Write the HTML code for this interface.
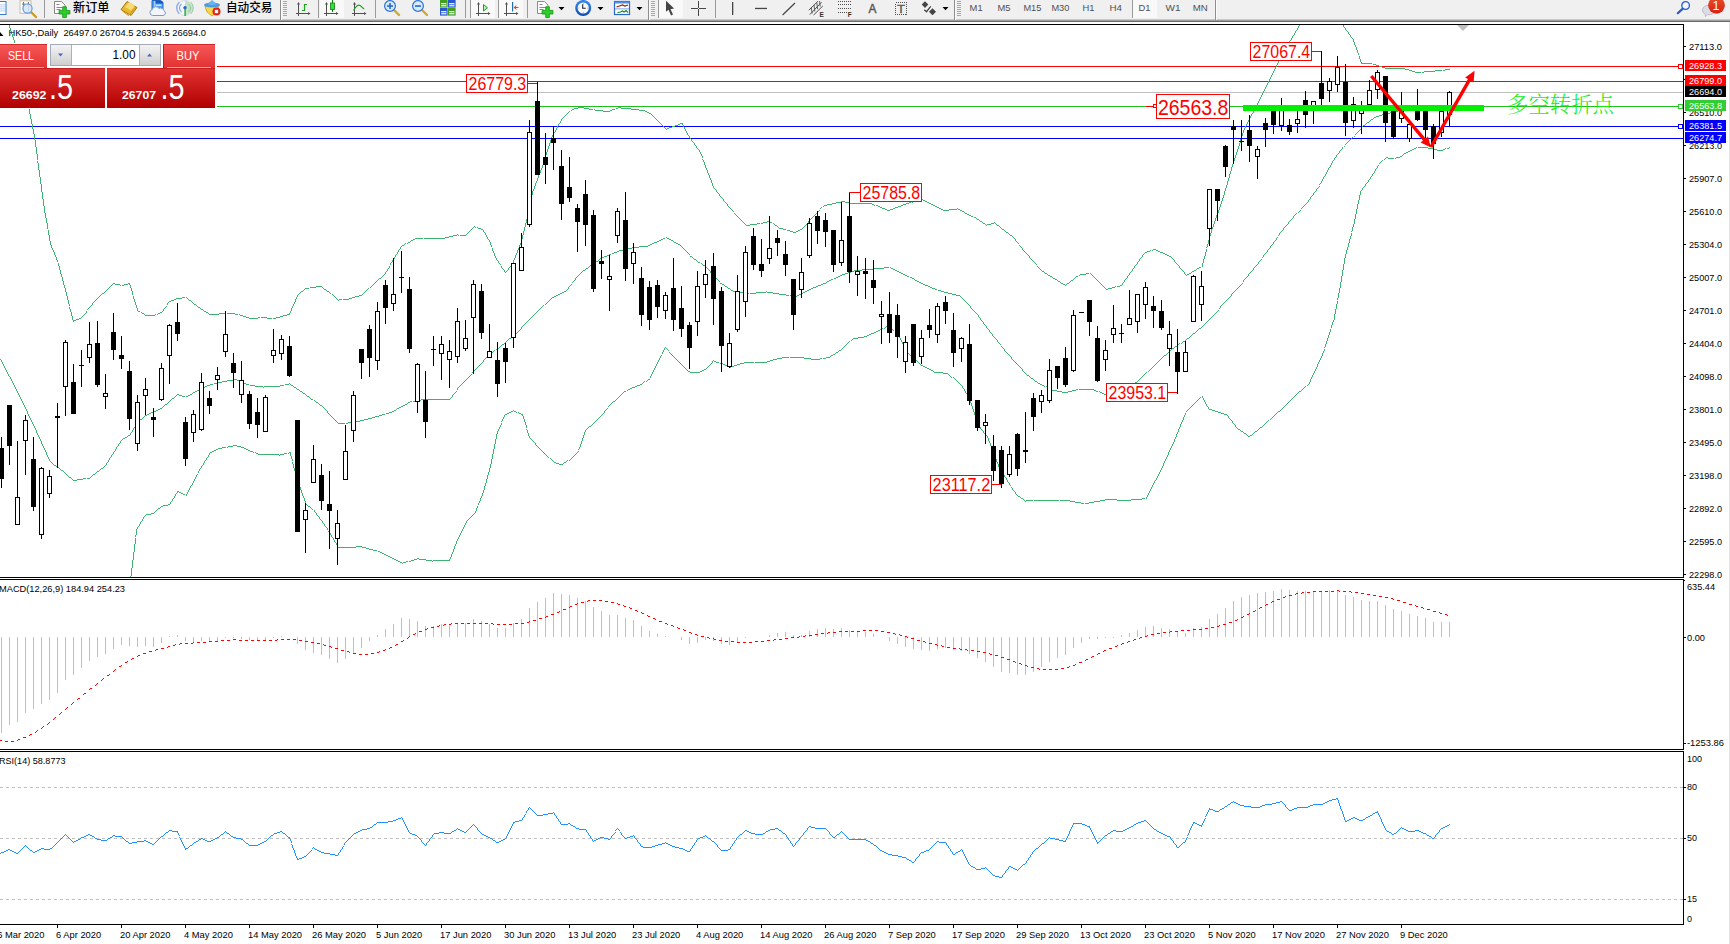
<!DOCTYPE html>
<html><head><meta charset="utf-8"><title>HK50-,Daily</title>
<style>html,body{margin:0;padding:0;background:#fff;overflow:hidden}body{width:1730px;height:944px}</style>
</head><body>
<svg width="1730" height="944" viewBox="0 0 1730 944" font-family="Liberation Sans, sans-serif" style="display:block">
<rect width="1730" height="944" fill="#fff"/>
<g shape-rendering="crispEdges">
<rect x="217" y="66" width="1466" height="1" fill="#ff0000"/>
<rect x="217" y="81" width="1466" height="1" fill="#ff0000"/>
<rect x="217" y="92" width="1466" height="1" fill="#c0c0c0"/>
<rect x="217" y="106" width="1466" height="1" fill="#20c020"/>
<rect x="0" y="126" width="1683" height="1" fill="#0000ff"/>
<rect x="0" y="138" width="1683" height="1" fill="#0000ff"/>
</g>
<path d="M578 107.5h6M618 107.5h3M574 108.5h4M584 108.5h5M616 108.5h2M621 108.5h10M572 109.5h2M589 109.5h4M612 109.5h3M631 109.5h8M595 110.5h8M610 110.5h2M639 110.5h6M603 111.5h7M645 111.5h2M647 112.5h2M649 113.5h2M680 123.5h3M678 124.5h2M675 125.5h3M672 126.5h3M669 127.5h3M667 128.5h2M919 199.5h4M916 200.5h3M923 200.5h2M841 201.5h4M913 201.5h3M925 201.5h2M836 202.5h5M845 202.5h5M909 202.5h2M927 202.5h2M832 203.5h4M850 203.5h22M906 203.5h3M929 203.5h2M827 204.5h5M872 204.5h2M903 204.5h3M931 204.5h2M824 205.5h3M876 205.5h2M901 205.5h2M933 205.5h2M878 206.5h2M898 206.5h3M935 206.5h2M880 207.5h2M895 207.5h3M937 207.5h2M882 208.5h3M893 208.5h2M939 208.5h2M885 209.5h2M890 209.5h3M941 209.5h2M949 209.5h8M958 209.5h2M887 210.5h3M943 210.5h6M960 210.5h2M962 211.5h2M965 213.5h2M967 214.5h2M969 215.5h2M971 216.5h2M974 217.5h2M977 219.5h2M767 221.5h3M980 221.5h2M763 222.5h4M770 222.5h2M757 223.5h3M761 223.5h2M983 223.5h2M991 223.5h3M750 224.5h7M987 224.5h4M746 225.5h4M775 225.5h2M997 225.5h2M478 228.5h3M779 228.5h4M481 229.5h2M783 229.5h3M800 229.5h2M1002 229.5h2M787 230.5h3M798 230.5h2M790 231.5h3M796 231.5h2M793 232.5h3M1006 232.5h2M453 235.5h4M460 235.5h6M1010 235.5h2M449 236.5h4M445 237.5h4M415 238.5h8M424 238.5h21M413 239.5h2M411 240.5h2M408 242.5h2M402 245.5h2M1153 249.5h3M1156 250.5h2M1147 251.5h3M1158 251.5h2M1145 252.5h2M1160 252.5h3M1163 253.5h2M1165 254.5h2M1167 255.5h2M1169 256.5h2M1199 267.5h2M1197 268.5h2M1194 270.5h2M1042 271.5h2M1192 271.5h2M1045 273.5h2M1086 273.5h3M1189 273.5h2M1080 274.5h6M1187 274.5h2M1048 275.5h2M1050 276.5h2M1076 276.5h2M379 278.5h2M1053 278.5h2M1055 279.5h2M1071 280.5h2M1058 281.5h2M113 283.5h2M128 283.5h2M1061 283.5h2M1067 283.5h2M115 284.5h5M124 284.5h4M1063 284.5h2M122 285.5h2M1120 285.5h2M316 286.5h6M1117 286.5h3M310 287.5h6M1112 287.5h3M305 288.5h4M1108 288.5h4M324 289.5h2M1106 289.5h2M301 291.5h2M327 291.5h2M102 293.5h2M359 295.5h3M355 296.5h4M182 297.5h3M352 297.5h3M176 298.5h6M349 298.5h3M174 299.5h2M339 299.5h3M343 299.5h6M171 300.5h3M189 300.5h2M169 301.5h2M194 304.5h2M198 307.5h2M201 309.5h2M138 311.5h2M204 311.5h2M160 312.5h2M206 312.5h2M142 313.5h2M158 313.5h2M219 313.5h7M227 313.5h8M209 314.5h10M235 314.5h3M287 314.5h3M145 315.5h10M240 315.5h3M283 315.5h4M243 316.5h3M280 316.5h3M246 317.5h3M258 317.5h2M261 317.5h6M276 317.5h4M79 318.5h2M249 318.5h9M267 318.5h5M273 318.5h3M76 319.5h3M73 320.5h3M9.5 25v3M10.5 28v3M11.5 31v3M12.5 34v3M13.5 37v3M14.5 40v5M15.5 45v1M15.5 47v3M16.5 50v5M17.5 55v4M18.5 59v5M19.5 64v5M20.5 69v4M21.5 73v5M22.5 78v4M23.5 82v4M24.5 86v5M25.5 91v3M25.5 95v1M26.5 96v4M27.5 100v5M28.5 105v4M29.5 109v5M30.5 114v5M31.5 119v5M32.5 124v5M33.5 129v5M34.5 134v6M35.5 140v7M36.5 147v7M37.5 154v6M37.5 161v2M38.5 163v7M39.5 170v7M40.5 177v7M41.5 184v8M42.5 192v7M43.5 199v7M44.5 206v7M45.5 213v5M46.5 218v5M47.5 223v6M48.5 230v5M49.5 235v6M50.5 241v4M51.5 245v3M52.5 248v2M53.5 250v2M54.5 252v3M55.5 255v2M56.5 257v3M57.5 260v2M58.5 263v3M59.5 266v4M60.5 270v4M61.5 274v3M62.5 277v4M63.5 281v4M64.5 285v3M65.5 288v4M66.5 292v4M67.5 296v4M68.5 300v4M69.5 304v2M69.5 307v2M70.5 309v3M71.5 312v4M72.5 316v4M73.5 321v1M81.5 317v1M82.5 316v1M83.5 315v1M84.5 314v1M85.5 313v1M86.5 311v2M87.5 309v1M88.5 308v1M89.5 307v1M90.5 306v1M91.5 305v1M92.5 303v2M93.5 302v1M94.5 301v1M95.5 300v1M96.5 299v1M97.5 298v1M98.5 297v1M99.5 296v1M100.5 295v1M101.5 294v1M104.5 292v1M105.5 291v1M106.5 290v1M107.5 289v1M108.5 288v1M109.5 287v1M110.5 286v1M111.5 285v1M112.5 284v1M120.5 285v1M129.5 284v1M130.5 285v3M131.5 288v3M132.5 291v4M133.5 296v3M134.5 299v3M135.5 302v3M136.5 305v3M137.5 308v3M141.5 312v1M144.5 314v1M155.5 314v1M157.5 314v1M162.5 311v1M163.5 309v2M164.5 308v1M165.5 307v1M166.5 306v1M167.5 303v2M168.5 302v1M186.5 297v1M187.5 298v1M188.5 299v1M191.5 301v1M192.5 302v1M193.5 303v1M196.5 305v1M197.5 306v1M200.5 308v1M203.5 310v1M208.5 313v1M239.5 314v1M289.5 313v1M290.5 311v2M291.5 308v3M292.5 306v2M293.5 304v2M294.5 302v2M295.5 299v3M296.5 297v2M297.5 295v2M298.5 294v1M299.5 293v1M300.5 292v1M303.5 290v1M304.5 289v1M322.5 287v1M323.5 288v1M326.5 290v1M329.5 292v1M330.5 293v1M332.5 294v1M333.5 295v1M334.5 296v1M335.5 297v1M336.5 298v1M337.5 299v1M338.5 300v1M362.5 294v1M363.5 293v1M364.5 292v1M365.5 291v1M366.5 290v1M367.5 289v1M368.5 288v1M370.5 287v1M371.5 286v1M372.5 285v1M373.5 284v1M374.5 283v1M375.5 282v1M376.5 281v1M377.5 280v1M378.5 279v1M381.5 277v1M382.5 276v1M383.5 275v1M384.5 274v1M385.5 272v2M386.5 271v1M387.5 269v2M388.5 268v1M389.5 266v2M390.5 263v2M391.5 262v1M392.5 260v2M393.5 259v1M394.5 257v2M395.5 255v2M396.5 254v1M397.5 252v2M398.5 250v2M399.5 249v1M400.5 247v2M401.5 246v1M404.5 244v1M405.5 243v1M407.5 243v1M410.5 241v1M457.5 234v1M458.5 235v1M466.5 234v1M467.5 233v1M468.5 232v1M469.5 231v1M470.5 230v1M471.5 229v1M472.5 228v1M473.5 227v1M474.5 226v1M475.5 227v1M477.5 227v1M483.5 230v2M484.5 232v1M485.5 233v2M486.5 235v2M487.5 237v2M488.5 239v1M489.5 240v2M490.5 242v3M491.5 245v2M492.5 248v3M493.5 251v2M494.5 253v3M495.5 256v2M496.5 258v2M497.5 260v1M498.5 261v2M499.5 263v1M500.5 264v1M501.5 266v2M502.5 268v1M503.5 269v1M504.5 270v2M505.5 272v1M506.5 271v1M507.5 270v1M508.5 268v2M509.5 267v1M510.5 266v1M511.5 265v1M512.5 263v1M513.5 260v3M514.5 258v2M515.5 255v3M516.5 253v2M517.5 250v3M518.5 248v2M519.5 245v3M520.5 243v2M521.5 239v4M522.5 235v4M523.5 231v4M524.5 227v4M525.5 223v4M526.5 219v4M527.5 214v5M528.5 209v5M529.5 205v4M530.5 200v5M531.5 195v5M532.5 191v4M533.5 189v2M534.5 186v3M535.5 183v3M536.5 181v2M537.5 178v3M538.5 175v3M539.5 173v2M540.5 170v3M541.5 168v2M542.5 165v3M543.5 162v3M544.5 158v3M545.5 155v3M546.5 152v3M547.5 149v3M548.5 146v3M549.5 143v3M550.5 140v3M551.5 137v3M552.5 135v2M553.5 133v2M554.5 132v1M555.5 130v2M556.5 128v2M557.5 126v2M558.5 124v2M559.5 123v1M560.5 121v2M561.5 119v2M562.5 118v1M563.5 117v1M564.5 116v1M565.5 115v1M566.5 114v1M567.5 113v1M568.5 112v1M569.5 111v1M571.5 110v1M594.5 109v1M651.5 114v1M652.5 115v1M653.5 116v1M654.5 117v1M655.5 118v1M656.5 119v1M657.5 120v1M658.5 121v1M659.5 122v1M660.5 123v1M661.5 124v1M662.5 125v1M663.5 126v1M664.5 127v1M665.5 128v1M666.5 129v1M682.5 124v1M683.5 125v2M684.5 127v2M685.5 129v2M686.5 131v2M687.5 133v2M688.5 135v1M689.5 136v2M690.5 138v1M691.5 139v2M692.5 141v1M693.5 142v1M694.5 143v2M695.5 145v1M696.5 146v2M697.5 148v1M698.5 149v1M699.5 150v2M700.5 152v2M701.5 154v2M702.5 156v2M702.5 159v1M703.5 160v2M704.5 162v3M705.5 165v3M706.5 168v2M707.5 170v3M708.5 173v2M709.5 175v3M710.5 178v2M711.5 180v3M712.5 183v3M713.5 186v2M714.5 188v1M715.5 189v1M716.5 190v2M717.5 192v1M718.5 193v1M719.5 194v2M720.5 196v1M721.5 197v1M722.5 198v1M723.5 199v2M724.5 201v1M725.5 202v1M726.5 203v1M727.5 204v2M728.5 206v1M729.5 207v1M730.5 208v1M731.5 209v1M732.5 210v1M733.5 211v1M734.5 213v1M735.5 214v1M736.5 215v1M737.5 216v1M738.5 217v1M739.5 218v1M740.5 219v1M741.5 220v1M742.5 221v1M743.5 222v1M744.5 223v1M745.5 224v1M773.5 223v1M774.5 224v1M777.5 226v1M778.5 227v1M802.5 228v1M803.5 227v1M804.5 226v1M805.5 225v1M806.5 224v1M807.5 223v1M808.5 221v2M809.5 220v1M810.5 219v1M811.5 218v1M812.5 217v1M813.5 216v1M814.5 215v1M815.5 214v1M816.5 213v1M817.5 212v1M818.5 211v1M819.5 210v1M820.5 208v1M821.5 207v1M823.5 206v1M874.5 205v1M912.5 202v1M957.5 208v1M964.5 212v1M976.5 218v1M979.5 220v1M982.5 222v1M985.5 224v1M986.5 225v1M994.5 222v1M995.5 223v1M996.5 224v1M999.5 226v1M1000.5 227v1M1001.5 228v1M1004.5 230v1M1005.5 231v1M1008.5 233v1M1009.5 234v1M1012.5 236v1M1013.5 237v1M1014.5 238v1M1015.5 239v2M1016.5 241v1M1017.5 242v1M1018.5 243v1M1019.5 245v1M1020.5 246v1M1021.5 247v1M1022.5 248v2M1023.5 250v1M1024.5 251v1M1025.5 252v1M1026.5 253v1M1027.5 254v1M1028.5 255v1M1029.5 256v2M1030.5 258v1M1031.5 259v1M1032.5 260v1M1033.5 261v1M1034.5 262v1M1035.5 263v1M1036.5 264v1M1037.5 266v1M1038.5 267v1M1039.5 268v1M1040.5 269v1M1041.5 270v1M1044.5 272v1M1047.5 274v1M1052.5 277v1M1057.5 280v1M1060.5 282v1M1065.5 285v1M1066.5 284v1M1069.5 282v1M1070.5 281v1M1073.5 279v1M1074.5 278v1M1075.5 277v1M1079.5 275v1M1090.5 273v1M1091.5 274v1M1092.5 275v1M1093.5 276v1M1094.5 277v1M1095.5 278v1M1096.5 279v1M1097.5 280v1M1098.5 281v1M1099.5 282v1M1100.5 283v1M1101.5 284v1M1102.5 285v1M1103.5 286v1M1104.5 287v1M1105.5 288v1M1115.5 286v1M1122.5 283v2M1123.5 282v1M1124.5 280v2M1125.5 279v1M1126.5 278v1M1127.5 276v2M1128.5 275v1M1129.5 273v2M1130.5 272v1M1131.5 271v1M1132.5 269v2M1133.5 268v1M1134.5 266v2M1135.5 265v1M1136.5 264v1M1137.5 262v2M1138.5 261v1M1139.5 259v2M1140.5 258v1M1141.5 257v1M1142.5 255v2M1143.5 254v1M1144.5 253v1M1150.5 250v1M1152.5 250v1M1171.5 257v1M1172.5 258v1M1173.5 259v1M1174.5 260v2M1175.5 262v1M1176.5 263v1M1177.5 264v1M1178.5 265v1M1179.5 266v2M1180.5 268v1M1181.5 269v1M1182.5 270v1M1183.5 271v1M1184.5 272v2M1185.5 274v1M1186.5 275v1M1191.5 272v1M1196.5 269v1M1202.5 263v4M1203.5 259v4M1204.5 256v3M1205.5 252v4M1206.5 247v1M1206.5 249v3M1207.5 244v3M1208.5 240v4M1209.5 236v4M1210.5 233v3M1211.5 229v4M1212.5 227v2M1213.5 224v3M1214.5 221v3M1215.5 218v3M1216.5 215v3M1217.5 213v2M1218.5 210v3M1219.5 207v3M1220.5 204v3M1221.5 201v3M1222.5 198v3M1223.5 195v3M1224.5 191v4M1225.5 188v3M1226.5 185v3M1227.5 181v4M1228.5 178v3M1229.5 174v4M1230.5 171v3M1231.5 167v4M1232.5 164v3M1233.5 161v3M1234.5 158v3M1235.5 155v3M1236.5 152v3M1237.5 149v3M1238.5 146v3M1239.5 143v3M1240.5 139v2M1240.5 142v1M1241.5 136v3M1242.5 133v3M1243.5 130v3M1244.5 128v2M1245.5 126v2M1246.5 124v2M1247.5 122v2M1248.5 120v2M1249.5 118v2M1250.5 116v2M1251.5 114v2M1252.5 113v1M1253.5 111v2M1254.5 109v2M1255.5 108v1M1256.5 105v2M1257.5 103v2M1258.5 101v2M1259.5 99v2M1260.5 97v2M1261.5 95v2M1262.5 93v2M1263.5 91v2M1264.5 89v2M1265.5 87v2M1266.5 85v2M1267.5 83v2M1268.5 81v2M1269.5 79v2M1270.5 77v2M1271.5 75v2M1272.5 73v2M1273.5 71v2M1274.5 69v2M1275.5 67v2M1276.5 65v2M1277.5 63v2M1278.5 61v2M1279.5 59v2M1280.5 58v1M1281.5 55v2M1282.5 53v2M1283.5 52v1M1284.5 50v2M1285.5 48v2M1286.5 46v2M1287.5 45v1M1288.5 43v2M1289.5 41v2M1290.5 40v1M1291.5 38v2M1292.5 36v2M1293.5 35v1M1294.5 33v2M1295.5 31v2M1296.5 30v1M1297.5 28v2M1298.5 26v2M1299.5 25v1" fill="none" stroke="#3cb371" stroke-width="1" shape-rendering="crispEdges"/>
<path d="M1361 63.5h11M1373 64.5h3M1376 65.5h3M1379 66.5h3M1382 67.5h3M1385 68.5h20M1405 69.5h4M1445 69.5h5M1409 70.5h3M1435 70.5h7M1443 70.5h2M1412 71.5h3M1424 71.5h11M1415 72.5h6M1422 72.5h2M1343.5 25v2M1344.5 27v1M1345.5 28v2M1346.5 30v1M1347.5 31v1M1348.5 32v2M1349.5 34v1M1350.5 35v2M1351.5 37v1M1352.5 38v1M1353.5 39v3M1354.5 42v3M1355.5 45v2M1356.5 47v3M1357.5 50v3M1358.5 53v2M1359.5 56v3M1360.5 59v3M1361.5 62v1" fill="none" stroke="#3cb371" stroke-width="1" shape-rendering="crispEdges"/>
<path d="M1435 107.5h15M1416 108.5h19M1406 109.5h10M1398 110.5h8M1394 111.5h4M1390 112.5h4M1385 113.5h2M1388 113.5h2M1382 114.5h3M1379 115.5h3M1376 116.5h3M1374 117.5h2M1371 119.5h2M1367 122.5h2M1363 125.5h2M663 238.5h2M667 238.5h2M661 239.5h2M669 239.5h2M659 240.5h2M671 240.5h2M657 241.5h2M654 242.5h3M674 242.5h2M652 243.5h2M676 243.5h2M650 244.5h2M678 244.5h2M648 245.5h2M639 246.5h9M632 247.5h7M628 248.5h4M623 249.5h5M619 250.5h4M617 251.5h2M614 252.5h3M612 253.5h2M609 254.5h2M607 255.5h2M604 256.5h3M690 256.5h2M602 257.5h2M600 258.5h2M694 259.5h2M596 261.5h2M698 262.5h2M593 263.5h2M590 265.5h2M703 265.5h2M884 267.5h5M586 268.5h2M874 268.5h10M891 268.5h2M862 269.5h12M893 269.5h2M583 270.5h2M854 270.5h8M895 270.5h2M851 271.5h3M897 271.5h2M848 272.5h3M899 272.5h2M845 273.5h3M901 273.5h2M842 274.5h3M903 274.5h2M840 275.5h2M905 275.5h2M838 276.5h2M907 276.5h2M836 277.5h2M910 277.5h2M834 278.5h2M912 278.5h2M831 279.5h2M829 280.5h2M915 280.5h2M827 281.5h2M917 281.5h2M919 282.5h2M720 283.5h2M823 283.5h3M921 283.5h2M722 284.5h2M821 284.5h2M923 284.5h2M818 285.5h3M925 285.5h3M725 286.5h2M816 286.5h2M928 286.5h2M813 287.5h3M930 287.5h2M728 288.5h2M811 288.5h2M932 288.5h3M809 289.5h2M935 289.5h2M731 290.5h2M807 290.5h2M938 290.5h3M564 291.5h2M733 291.5h5M805 291.5h2M941 291.5h3M562 292.5h2M738 292.5h7M756 292.5h10M767 292.5h6M803 292.5h2M944 292.5h4M560 293.5h2M745 293.5h4M750 293.5h6M773 293.5h6M801 293.5h2M948 293.5h4M558 294.5h2M779 294.5h7M799 294.5h2M952 294.5h4M556 295.5h2M786 295.5h3M790 295.5h5M797 295.5h2M956 295.5h4M554 296.5h2M795 296.5h2M552 297.5h2M1199 328.5h2M1193 333.5h2M509 338.5h2M1187 338.5h2M1183 341.5h2M502 344.5h2M1175 346.5h2M497 348.5h2M1172 348.5h2M491 352.5h2M1164 355.5h2M1027 375.5h2M1031 378.5h2M233 379.5h4M227 380.5h6M237 380.5h2M222 381.5h5M239 381.5h2M1035 381.5h2M217 382.5h5M241 382.5h3M1135 382.5h2M214 383.5h3M244 383.5h2M1038 383.5h2M1133 383.5h2M210 384.5h3M246 384.5h3M285 384.5h4M1040 384.5h2M207 385.5h3M250 385.5h5M280 385.5h4M291 385.5h2M1042 385.5h2M1130 385.5h2M205 386.5h2M255 386.5h8M264 386.5h16M1128 386.5h2M202 387.5h3M294 387.5h2M1047 387.5h2M1126 387.5h2M200 388.5h2M1049 388.5h2M1124 388.5h2M297 389.5h2M1076 389.5h2M1079 389.5h15M1122 389.5h2M197 390.5h2M1052 390.5h5M1072 390.5h4M1094 390.5h2M195 391.5h2M300 391.5h2M1057 391.5h5M1068 391.5h4M1096 391.5h2M1118 391.5h3M193 392.5h2M1062 392.5h6M1100 392.5h2M1114 392.5h4M303 393.5h2M1102 393.5h2M1110 393.5h4M177 394.5h2M190 394.5h2M1104 394.5h6M179 395.5h3M188 395.5h2M182 396.5h3M186 396.5h2M307 396.5h2M172 398.5h2M311 399.5h2M421 399.5h29M416 400.5h5M410 401.5h2M413 401.5h3M316 402.5h2M408 402.5h2M165 404.5h2M405 404.5h2M320 405.5h2M403 405.5h2M401 406.5h2M399 407.5h2M160 408.5h2M397 408.5h2M158 409.5h2M156 410.5h2M394 410.5h2M154 411.5h2M392 411.5h2M151 412.5h2M389 412.5h3M149 413.5h2M386 413.5h3M147 414.5h2M382 414.5h3M145 415.5h2M379 415.5h3M375 416.5h4M372 417.5h3M368 418.5h4M140 419.5h2M364 419.5h4M360 420.5h4M356 421.5h4M348 422.5h8M338 423.5h7M346 423.5h2M128 435.5h2M125 437.5h2M123 438.5h2M54 465.5h2M101 468.5h2M61 470.5h2M97 471.5h2M93 474.5h2M69 477.5h2M83 478.5h3M87 478.5h3M77 479.5h6M73 480.5h4M0.5 359v1M1.5 360v2M2.5 362v2M3.5 364v2M4.5 366v2M5.5 368v2M6.5 370v2M7.5 372v2M8.5 374v2M9.5 376v1M10.5 377v2M11.5 379v2M12.5 381v2M13.5 383v2M14.5 385v2M15.5 387v2M16.5 389v2M17.5 391v2M18.5 393v2M19.5 395v2M20.5 397v2M21.5 399v2M22.5 401v2M23.5 403v2M24.5 405v2M25.5 407v2M26.5 409v2M27.5 411v3M28.5 414v2M29.5 416v2M30.5 418v2M31.5 420v2M32.5 422v2M33.5 424v2M34.5 426v2M35.5 428v2M36.5 430v3M37.5 433v2M38.5 435v2M39.5 437v2M40.5 439v2M41.5 441v3M42.5 444v2M43.5 446v2M44.5 448v2M45.5 450v2M46.5 452v3M47.5 455v2M48.5 457v2M49.5 459v2M50.5 461v1M51.5 462v1M52.5 463v1M53.5 464v1M56.5 466v1M58.5 467v1M59.5 468v1M60.5 469v1M63.5 471v1M64.5 472v1M65.5 473v1M66.5 474v1M67.5 475v1M68.5 476v1M71.5 478v1M72.5 479v1M90.5 477v1M91.5 476v1M92.5 475v1M95.5 473v1M96.5 472v1M99.5 470v1M100.5 469v1M103.5 467v1M104.5 466v1M105.5 465v1M106.5 463v2M107.5 462v1M108.5 460v2M109.5 458v2M110.5 457v1M111.5 455v2M112.5 454v1M113.5 452v2M114.5 451v1M115.5 449v2M116.5 447v2M117.5 446v1M118.5 444v2M119.5 443v1M120.5 441v2M121.5 440v1M122.5 439v1M127.5 436v1M130.5 433v2M131.5 432v1M132.5 430v2M133.5 428v2M134.5 427v1M135.5 425v2M136.5 424v1M137.5 422v2M138.5 421v1M139.5 420v1M142.5 418v1M143.5 417v1M144.5 416v1M162.5 407v1M163.5 406v1M164.5 405v1M167.5 403v1M168.5 402v1M169.5 401v1M170.5 400v1M171.5 399v1M174.5 397v1M175.5 396v1M176.5 395v1M192.5 393v1M199.5 389v1M263.5 387v1M289.5 383v1M290.5 384v1M293.5 386v1M296.5 388v1M299.5 390v1M302.5 392v1M305.5 394v1M306.5 395v1M309.5 397v1M310.5 398v1M314.5 400v1M315.5 401v1M318.5 403v1M319.5 404v1M322.5 406v1M323.5 407v1M324.5 408v1M325.5 409v1M326.5 410v1M327.5 411v2M328.5 413v1M329.5 414v1M330.5 415v1M331.5 416v1M332.5 417v1M333.5 418v1M334.5 419v1M335.5 420v1M336.5 421v1M337.5 422v1M396.5 409v1M407.5 403v1M450.5 398v1M451.5 397v1M452.5 395v2M453.5 394v1M454.5 393v1M455.5 392v1M456.5 391v1M457.5 388v2M458.5 387v1M459.5 386v1M460.5 385v1M461.5 384v1M462.5 383v1M463.5 382v1M464.5 381v1M465.5 380v1M466.5 379v1M467.5 378v1M468.5 377v1M469.5 376v1M470.5 375v1M471.5 374v1M472.5 372v1M473.5 371v1M474.5 370v1M475.5 369v1M476.5 368v1M477.5 367v1M478.5 366v1M479.5 365v1M480.5 364v1M481.5 363v1M482.5 362v1M483.5 360v2M484.5 359v1M485.5 358v1M486.5 357v1M487.5 356v1M488.5 355v1M489.5 354v1M490.5 353v1M493.5 351v1M494.5 350v1M496.5 349v1M499.5 347v1M500.5 346v1M501.5 345v1M504.5 343v1M505.5 342v1M506.5 341v1M507.5 340v1M508.5 339v1M511.5 337v1M512.5 336v1M514.5 335v1M515.5 334v1M516.5 333v1M517.5 332v1M518.5 331v1M519.5 330v1M520.5 329v1M521.5 327v2M522.5 326v1M523.5 325v1M524.5 324v1M525.5 323v1M526.5 322v1M527.5 321v1M528.5 320v1M529.5 319v1M530.5 318v1M531.5 317v1M532.5 316v1M533.5 315v1M534.5 314v1M535.5 313v1M536.5 312v1M537.5 311v1M538.5 310v1M539.5 309v1M540.5 308v1M541.5 307v1M542.5 306v1M543.5 305v1M545.5 304v1M546.5 303v1M547.5 302v1M548.5 301v1M549.5 300v1M550.5 299v1M551.5 298v1M566.5 290v1M567.5 289v1M568.5 287v2M569.5 286v1M570.5 285v1M571.5 284v1M572.5 282v1M573.5 281v1M574.5 280v1M575.5 278v2M576.5 277v1M577.5 276v1M578.5 275v1M579.5 274v1M580.5 273v1M581.5 272v1M582.5 271v1M585.5 269v1M588.5 267v1M589.5 266v1M592.5 264v1M595.5 262v1M598.5 260v1M599.5 259v1M666.5 237v1M673.5 241v1M680.5 245v1M681.5 246v1M682.5 247v1M683.5 248v1M684.5 249v1M685.5 250v1M686.5 251v1M687.5 252v1M688.5 253v1M689.5 254v1M692.5 257v1M693.5 258v1M696.5 260v1M697.5 261v1M701.5 263v1M702.5 264v1M705.5 266v1M706.5 267v1M707.5 268v1M708.5 269v1M709.5 270v1M710.5 271v2M711.5 273v1M712.5 274v1M713.5 275v1M714.5 276v1M715.5 277v1M716.5 278v1M717.5 279v1M718.5 280v1M719.5 281v1M724.5 285v1M727.5 287v1M730.5 289v1M766.5 291v1M826.5 282v1M890.5 267v1M914.5 279v1M960.5 296v1M961.5 297v1M962.5 298v1M963.5 299v1M964.5 300v1M965.5 301v1M966.5 302v1M967.5 303v1M968.5 304v1M969.5 305v1M970.5 306v2M971.5 308v1M972.5 309v1M973.5 310v1M974.5 311v1M975.5 312v1M976.5 313v1M977.5 314v1M978.5 315v2M979.5 317v1M980.5 318v2M981.5 320v1M982.5 321v1M983.5 322v2M984.5 324v1M985.5 325v1M986.5 326v2M987.5 328v1M988.5 329v1M989.5 330v2M990.5 332v1M991.5 333v1M992.5 334v2M993.5 336v1M994.5 337v1M995.5 338v1M996.5 339v1M997.5 340v2M998.5 342v1M999.5 343v1M1000.5 344v1M1001.5 346v1M1002.5 347v1M1003.5 348v1M1004.5 349v2M1005.5 351v1M1006.5 352v1M1007.5 353v1M1008.5 354v1M1009.5 355v1M1010.5 356v1M1011.5 357v2M1012.5 359v1M1013.5 360v1M1014.5 361v1M1015.5 362v1M1016.5 363v1M1017.5 364v1M1018.5 365v1M1019.5 366v1M1020.5 367v1M1021.5 368v1M1022.5 369v2M1023.5 371v1M1024.5 372v1M1025.5 373v1M1026.5 374v1M1029.5 376v1M1030.5 377v1M1033.5 379v1M1034.5 380v1M1037.5 382v1M1044.5 386v1M1046.5 386v1M1051.5 389v1M1099.5 391v1M1121.5 390v1M1132.5 384v1M1137.5 381v1M1138.5 380v1M1139.5 379v1M1140.5 378v1M1141.5 377v1M1142.5 376v1M1143.5 375v1M1144.5 374v1M1145.5 373v1M1146.5 372v1M1148.5 371v1M1149.5 370v1M1150.5 369v1M1151.5 368v1M1152.5 367v1M1153.5 366v1M1154.5 365v1M1155.5 364v1M1156.5 363v1M1157.5 362v1M1158.5 361v1M1159.5 360v1M1160.5 359v1M1161.5 358v1M1162.5 357v1M1163.5 356v1M1166.5 354v1M1167.5 353v1M1168.5 352v1M1169.5 351v1M1170.5 350v1M1171.5 349v1M1174.5 347v1M1177.5 345v1M1178.5 344v1M1179.5 343v1M1181.5 343v1M1182.5 342v1M1185.5 340v1M1186.5 339v1M1189.5 337v1M1190.5 336v1M1191.5 335v1M1192.5 334v1M1195.5 332v1M1196.5 331v1M1197.5 330v1M1198.5 329v1M1201.5 327v1M1202.5 326v1M1203.5 325v1M1204.5 324v1M1205.5 323v1M1206.5 322v1M1207.5 321v1M1208.5 320v1M1209.5 319v1M1210.5 318v1M1211.5 317v1M1212.5 316v1M1213.5 315v1M1214.5 314v1M1215.5 313v1M1216.5 312v1M1217.5 311v1M1218.5 310v1M1219.5 308v1M1220.5 306v2M1221.5 305v1M1222.5 304v1M1223.5 303v1M1224.5 302v1M1225.5 301v1M1226.5 300v1M1227.5 299v1M1228.5 298v1M1229.5 297v1M1230.5 296v1M1231.5 294v2M1232.5 293v1M1233.5 292v1M1234.5 291v1M1235.5 290v1M1236.5 289v1M1237.5 288v1M1238.5 287v1M1239.5 286v1M1240.5 285v1M1241.5 284v1M1242.5 283v1M1243.5 280v2M1244.5 279v1M1245.5 278v1M1246.5 277v1M1247.5 276v1M1248.5 274v2M1249.5 273v1M1250.5 272v1M1251.5 271v1M1252.5 270v1M1253.5 268v2M1254.5 267v1M1255.5 266v1M1256.5 265v1M1257.5 264v1M1258.5 262v2M1259.5 261v1M1260.5 260v1M1261.5 259v1M1262.5 257v1M1263.5 255v2M1264.5 254v1M1265.5 253v1M1266.5 252v1M1267.5 250v2M1268.5 249v1M1269.5 248v1M1270.5 246v2M1271.5 245v1M1272.5 244v1M1273.5 242v2M1274.5 241v1M1275.5 240v1M1276.5 238v2M1277.5 237v1M1278.5 235v1M1279.5 233v2M1280.5 232v1M1281.5 231v1M1282.5 230v1M1283.5 228v2M1284.5 227v1M1285.5 226v1M1286.5 225v1M1287.5 224v1M1288.5 222v2M1289.5 221v1M1290.5 220v1M1291.5 219v1M1292.5 218v1M1293.5 216v2M1294.5 215v1M1295.5 214v1M1296.5 213v1M1298.5 212v1M1299.5 211v1M1300.5 210v1M1301.5 208v1M1302.5 207v1M1303.5 206v1M1304.5 205v1M1305.5 204v1M1306.5 203v1M1307.5 202v1M1308.5 200v2M1309.5 199v1M1310.5 197v2M1311.5 196v1M1312.5 195v1M1313.5 193v2M1314.5 192v1M1315.5 191v1M1316.5 189v2M1317.5 188v1M1318.5 187v1M1319.5 184v1M1319.5 186v1M1320.5 183v1M1321.5 181v2M1322.5 179v2M1323.5 177v2M1324.5 176v1M1325.5 174v2M1326.5 172v2M1327.5 170v2M1328.5 168v2M1329.5 167v1M1330.5 165v2M1331.5 163v2M1332.5 161v2M1333.5 160v1M1334.5 158v2M1335.5 157v1M1336.5 155v2M1337.5 154v1M1338.5 153v1M1339.5 151v2M1340.5 150v1M1341.5 149v1M1342.5 147v2M1344.5 146v1M1345.5 144v1M1346.5 143v1M1347.5 142v1M1348.5 141v1M1349.5 140v1M1350.5 139v1M1351.5 138v1M1352.5 137v1M1354.5 136v1M1355.5 134v1M1356.5 133v1M1357.5 132v1M1358.5 131v1M1359.5 130v1M1360.5 129v1M1361.5 128v1M1362.5 126v1M1365.5 124v1M1366.5 123v1M1369.5 121v1M1370.5 120v1M1373.5 118v1" fill="none" stroke="#3cb371" stroke-width="1" shape-rendering="crispEdges"/>
<path d="M1418 147.5h10M1414 148.5h2M1428 148.5h5M1447 148.5h2M1412 149.5h2M1433 149.5h4M1443 149.5h2M1410 150.5h2M1437 150.5h6M1408 151.5h2M1406 152.5h2M1404 153.5h2M1400 156.5h2M1386 157.5h2M1396 157.5h4M1388 158.5h6M886 326.5h2M880 329.5h2M878 330.5h2M876 331.5h2M874 332.5h2M871 333.5h3M869 334.5h2M867 335.5h2M864 336.5h3M858 337.5h6M853 338.5h5M839 350.5h2M836 352.5h2M833 354.5h2M831 355.5h2M782 357.5h7M790 357.5h14M826 357.5h4M777 358.5h5M804 358.5h7M820 358.5h2M823 358.5h3M773 359.5h4M811 359.5h9M770 360.5h3M915 360.5h2M714 361.5h2M767 361.5h3M716 362.5h3M744 362.5h10M755 362.5h12M720 363.5h3M740 363.5h4M723 364.5h2M737 364.5h3M725 365.5h3M734 365.5h3M921 365.5h2M728 366.5h2M731 366.5h3M923 366.5h2M925 367.5h2M927 368.5h2M704 369.5h2M929 369.5h2M702 370.5h2M931 370.5h2M688 371.5h2M700 371.5h2M690 372.5h10M934 372.5h9M943 373.5h5M648 379.5h2M640 384.5h2M637 385.5h3M635 386.5h2M632 387.5h3M630 388.5h2M628 389.5h2M624 391.5h2M1299 391.5h2M613 401.5h2M1209 409.5h3M1212 410.5h3M511 411.5h2M514 411.5h2M1215 411.5h3M1278 411.5h2M509 412.5h2M1218 412.5h3M507 413.5h2M519 413.5h2M1221 413.5h3M505 414.5h2M521 414.5h2M1224 414.5h3M589 426.5h2M1260 427.5h2M1238 429.5h2M1241 431.5h2M1255 431.5h2M1244 433.5h2M1250 435.5h2M1248 436.5h2M233 445.5h4M228 446.5h5M237 446.5h4M222 447.5h4M241 447.5h3M218 448.5h4M244 448.5h2M216 449.5h2M246 449.5h2M214 450.5h2M248 450.5h2M212 451.5h2M250 451.5h3M210 452.5h2M289 452.5h2M256 453.5h2M284 453.5h3M258 454.5h21M280 454.5h4M554 462.5h2M564 462.5h2M556 463.5h3M559 464.5h4M177 491.5h2M179 492.5h2M181 493.5h2M183 494.5h2M1018 496.5h2M1021 498.5h2M1142 498.5h3M1105 499.5h12M1131 499.5h11M1026 500.5h7M1034 500.5h25M1060 500.5h10M1100 500.5h5M1117 500.5h14M1070 501.5h5M1094 501.5h6M1075 502.5h6M1089 502.5h5M1081 503.5h3M1085 503.5h4M168 504.5h2M163 505.5h5M161 506.5h2M308 506.5h2M158 508.5h2M151 513.5h3M146 514.5h5M356 546.5h6M338 547.5h18M362 547.5h4M366 548.5h3M369 549.5h4M373 550.5h4M378 551.5h2M380 552.5h2M382 553.5h2M384 554.5h2M386 555.5h2M388 556.5h2M390 557.5h2M392 558.5h2M417 558.5h2M394 559.5h2M414 559.5h3M419 559.5h7M396 560.5h2M411 560.5h3M426 560.5h6M433 560.5h17M398 561.5h2M406 561.5h2M409 561.5h2M400 562.5h2M403 562.5h3M130.5 576v1M131.5 568v8M132.5 560v8M133.5 552v8M134.5 544v8M135.5 535v2M135.5 538v6M136.5 529v6M137.5 527v2M138.5 526v1M139.5 524v2M140.5 522v2M141.5 521v1M142.5 519v2M143.5 517v2M144.5 516v1M145.5 515v1M154.5 512v1M155.5 511v1M156.5 510v1M157.5 509v1M160.5 507v1M170.5 502v2M171.5 501v1M172.5 499v2M173.5 498v1M174.5 496v2M175.5 494v2M176.5 493v1M177.5 492v1M186.5 494v2M187.5 492v2M188.5 490v2M189.5 488v2M190.5 486v2M191.5 485v1M192.5 483v2M193.5 481v2M194.5 479v2M195.5 477v2M196.5 475v2M197.5 474v1M198.5 471v2M199.5 469v2M200.5 468v1M201.5 466v2M202.5 465v1M203.5 463v2M204.5 461v2M205.5 460v1M206.5 458v2M207.5 457v1M208.5 455v2M209.5 453v2M227.5 447v1M253.5 452v1M255.5 452v1M279.5 455v1M288.5 453v1M290.5 453v3M291.5 456v3M292.5 459v2M292.5 462v2M293.5 464v4M294.5 468v3M295.5 471v4M296.5 475v3M297.5 478v4M298.5 482v2M299.5 484v3M300.5 487v3M301.5 490v3M302.5 493v3M303.5 496v2M304.5 498v3M305.5 501v3M306.5 504v1M307.5 505v1M310.5 507v1M311.5 508v1M312.5 509v1M314.5 510v2M315.5 512v1M316.5 513v2M317.5 515v1M318.5 516v1M319.5 517v2M320.5 519v1M321.5 520v1M322.5 521v2M323.5 523v1M324.5 524v2M325.5 526v1M326.5 527v1M327.5 528v2M328.5 531v1M329.5 532v1M330.5 533v2M331.5 535v2M332.5 537v1M333.5 538v2M334.5 540v2M335.5 542v1M336.5 543v2M337.5 545v2M402.5 563v1M432.5 561v1M449.5 559v1M450.5 557v2M451.5 554v3M452.5 552v2M453.5 549v3M454.5 546v3M455.5 544v2M456.5 541v3M457.5 539v2M458.5 537v2M459.5 535v2M460.5 533v2M461.5 531v2M462.5 529v2M463.5 527v2M464.5 525v2M465.5 523v2M466.5 521v2M467.5 520v1M468.5 519v1M469.5 518v1M470.5 517v1M471.5 516v1M472.5 515v1M473.5 514v1M474.5 513v1M475.5 511v2M476.5 508v3M477.5 506v2M478.5 503v2M479.5 501v2M480.5 498v3M481.5 496v2M482.5 493v3M483.5 490v3M484.5 486v4M485.5 483v3M486.5 479v4M487.5 475v4M488.5 472v3M489.5 468v4M490.5 464v4M491.5 459v5M492.5 454v5M493.5 449v5M494.5 444v5M495.5 439v5M496.5 434v5M497.5 431v3M498.5 429v2M499.5 427v2M500.5 425v2M501.5 421v1M501.5 423v2M502.5 419v2M503.5 417v2M504.5 415v2M513.5 410v1M516.5 412v1M518.5 412v1M522.5 415v1M523.5 416v3M524.5 419v3M525.5 422v3M526.5 425v3M526.5 429v1M527.5 430v3M528.5 433v3M529.5 436v2M530.5 438v1M531.5 439v1M532.5 440v1M533.5 441v1M534.5 442v1M535.5 443v2M536.5 445v1M537.5 446v1M538.5 447v1M539.5 448v1M540.5 449v1M541.5 450v1M542.5 451v1M543.5 452v1M544.5 453v1M545.5 454v1M546.5 455v1M547.5 456v1M548.5 457v1M550.5 458v1M551.5 459v1M552.5 460v1M553.5 461v1M563.5 463v1M566.5 461v1M567.5 460v1M569.5 460v1M570.5 459v1M571.5 458v1M572.5 457v1M573.5 456v1M574.5 455v1M575.5 454v1M576.5 453v1M577.5 452v1M578.5 449v1M578.5 451v1M579.5 447v2M580.5 444v3M581.5 441v3M582.5 438v3M583.5 435v3M584.5 432v3M585.5 430v2M586.5 429v1M587.5 428v1M588.5 427v1M591.5 425v1M592.5 424v1M593.5 423v1M594.5 422v1M595.5 421v1M596.5 420v1M597.5 419v1M598.5 418v1M599.5 417v1M600.5 416v1M601.5 415v1M602.5 414v1M603.5 413v1M604.5 411v2M605.5 410v1M606.5 409v1M607.5 408v1M608.5 406v1M609.5 405v1M610.5 404v1M611.5 403v1M612.5 402v1M615.5 400v1M616.5 399v1M617.5 398v1M618.5 397v1M619.5 396v1M620.5 395v1M621.5 394v1M622.5 393v1M623.5 392v1M627.5 390v1M642.5 383v1M643.5 382v1M644.5 381v1M646.5 381v1M647.5 380v1M650.5 376v2M651.5 374v2M652.5 372v2M653.5 370v2M654.5 368v2M655.5 366v2M656.5 364v2M657.5 362v2M658.5 360v2M659.5 358v2M660.5 356v2M661.5 355v1M662.5 352v2M663.5 350v2M664.5 348v2M665.5 347v1M666.5 348v1M667.5 349v1M668.5 350v1M669.5 352v1M670.5 353v1M671.5 354v1M672.5 355v1M673.5 356v1M674.5 357v1M675.5 358v1M676.5 359v1M677.5 360v1M678.5 361v1M679.5 362v1M680.5 363v1M681.5 364v1M682.5 365v1M683.5 366v1M684.5 367v1M685.5 368v1M686.5 369v1M687.5 370v1M706.5 368v1M707.5 367v1M708.5 366v1M709.5 365v1M710.5 364v1M711.5 363v1M712.5 361v2M713.5 360v1M730.5 367v1M830.5 356v1M835.5 353v1M838.5 351v1M841.5 349v1M842.5 348v1M843.5 347v1M844.5 346v1M845.5 345v1M846.5 344v1M847.5 343v1M848.5 342v1M849.5 341v1M851.5 340v1M852.5 339v1M882.5 328v1M884.5 328v1M885.5 327v1M888.5 325v1M889.5 326v1M890.5 327v1M891.5 328v1M892.5 329v1M893.5 330v1M895.5 331v1M896.5 332v1M897.5 333v1M898.5 334v2M899.5 336v2M900.5 338v2M901.5 340v2M902.5 342v2M903.5 344v2M904.5 346v1M905.5 347v2M906.5 349v2M907.5 351v2M908.5 353v1M909.5 354v1M910.5 355v1M911.5 356v1M912.5 357v1M913.5 358v1M914.5 359v1M917.5 361v1M918.5 362v1M919.5 363v1M920.5 364v1M933.5 371v1M948.5 374v1M949.5 375v1M950.5 376v1M951.5 377v1M953.5 377v1M954.5 378v1M955.5 379v1M956.5 380v1M957.5 381v1M958.5 382v1M959.5 383v1M960.5 384v1M961.5 385v1M962.5 386v2M963.5 388v1M964.5 389v2M965.5 391v2M966.5 393v1M967.5 394v2M968.5 396v1M969.5 397v2M970.5 399v4M971.5 403v3M972.5 406v3M973.5 409v3M974.5 412v3M975.5 415v3M976.5 418v4M977.5 422v3M978.5 425v1M979.5 426v1M980.5 427v2M981.5 429v1M982.5 430v1M983.5 431v2M984.5 433v1M985.5 434v1M986.5 435v1M987.5 436v2M988.5 438v3M989.5 441v2M990.5 443v3M991.5 446v2M992.5 448v2M992.5 451v1M993.5 452v2M994.5 454v3M995.5 457v2M996.5 459v3M997.5 462v2M998.5 464v3M999.5 467v2M1000.5 469v1M1001.5 470v2M1002.5 472v1M1003.5 473v2M1004.5 475v2M1005.5 477v1M1006.5 478v2M1007.5 480v2M1008.5 482v1M1009.5 483v2M1010.5 485v1M1011.5 487v1M1012.5 488v2M1013.5 490v1M1014.5 491v1M1015.5 492v2M1016.5 494v1M1017.5 495v1M1020.5 497v1M1023.5 499v1M1024.5 500v1M1025.5 501v1M1146.5 497v2M1147.5 495v2M1148.5 493v2M1149.5 491v2M1150.5 489v2M1151.5 487v2M1152.5 485v2M1153.5 483v2M1154.5 481v2M1155.5 480v1M1156.5 478v2M1157.5 476v2M1158.5 474v2M1159.5 472v2M1160.5 470v2M1161.5 468v2M1162.5 466v2M1163.5 463v3M1164.5 461v2M1165.5 459v2M1166.5 457v2M1167.5 455v2M1168.5 452v3M1169.5 450v2M1170.5 448v2M1171.5 446v2M1172.5 444v2M1173.5 442v2M1174.5 439v3M1175.5 437v2M1176.5 434v3M1177.5 432v2M1178.5 429v3M1179.5 427v2M1180.5 424v3M1181.5 422v2M1182.5 420v2M1183.5 417v3M1184.5 415v2M1185.5 413v2M1186.5 411v1M1187.5 410v1M1188.5 409v1M1189.5 408v1M1190.5 407v1M1191.5 406v1M1192.5 405v1M1193.5 404v1M1194.5 403v1M1195.5 402v1M1196.5 401v1M1197.5 400v1M1198.5 399v1M1199.5 398v1M1200.5 397v1M1202.5 396v2M1203.5 398v2M1204.5 400v2M1205.5 402v2M1206.5 404v2M1207.5 406v1M1208.5 407v2M1227.5 415v1M1228.5 416v2M1229.5 418v1M1230.5 419v1M1231.5 420v1M1232.5 421v2M1233.5 423v1M1234.5 424v1M1235.5 425v2M1236.5 427v1M1237.5 428v1M1240.5 430v1M1243.5 432v1M1246.5 434v1M1247.5 435v1M1252.5 434v1M1253.5 433v1M1254.5 432v1M1257.5 430v1M1258.5 429v1M1259.5 428v1M1262.5 426v1M1263.5 425v1M1264.5 424v1M1265.5 423v1M1266.5 422v1M1267.5 421v1M1268.5 420v1M1270.5 419v1M1271.5 418v1M1272.5 417v1M1273.5 416v1M1274.5 415v1M1275.5 414v1M1276.5 413v1M1277.5 412v1M1280.5 410v1M1281.5 409v1M1282.5 408v1M1283.5 407v1M1284.5 406v1M1285.5 405v1M1286.5 404v1M1287.5 403v1M1288.5 402v1M1289.5 401v1M1290.5 400v1M1291.5 399v1M1292.5 398v1M1293.5 397v1M1294.5 396v1M1295.5 395v1M1296.5 394v1M1297.5 393v1M1298.5 392v1M1301.5 390v1M1302.5 389v1M1303.5 388v1M1304.5 387v1M1305.5 386v1M1307.5 385v1M1308.5 384v1M1309.5 382v2M1310.5 379v3M1311.5 377v2M1312.5 375v2M1313.5 373v2M1314.5 371v2M1315.5 369v2M1316.5 367v2M1317.5 364v3M1318.5 362v2M1319.5 360v2M1320.5 358v2M1321.5 356v2M1322.5 353v3M1323.5 351v2M1324.5 347v1M1324.5 349v2M1325.5 344v3M1326.5 341v3M1327.5 338v3M1328.5 335v3M1329.5 332v3M1330.5 329v3M1331.5 325v3M1332.5 322v3M1333.5 320v2M1334.5 314v6M1335.5 309v5M1336.5 304v5M1337.5 298v2M1337.5 301v3M1338.5 293v5M1339.5 288v5M1340.5 282v6M1341.5 276v6M1342.5 270v6M1343.5 264v6M1344.5 258v6M1345.5 254v4M1346.5 250v4M1347.5 247v3M1348.5 243v4M1349.5 239v4M1350.5 236v3M1351.5 231v1M1351.5 233v3M1352.5 227v4M1353.5 224v3M1354.5 219v5M1355.5 214v5M1356.5 209v5M1357.5 204v5M1358.5 200v4M1359.5 195v5M1360.5 191v4M1361.5 190v1M1362.5 188v2M1363.5 187v1M1364.5 186v1M1365.5 184v2M1366.5 183v1M1367.5 182v1M1368.5 180v2M1369.5 179v1M1370.5 177v2M1371.5 176v1M1372.5 174v2M1373.5 173v1M1374.5 171v2M1375.5 169v2M1376.5 168v1M1377.5 166v2M1378.5 165v1M1379.5 163v1M1380.5 162v1M1381.5 161v1M1382.5 160v1M1384.5 159v1M1385.5 158v1M1395.5 158v1M1402.5 155v1M1403.5 154v1M1416.5 147v1M1445.5 148v1M1449.5 147v1" fill="none" stroke="#3cb371" stroke-width="1" shape-rendering="crispEdges"/>
<g shape-rendering="crispEdges">
<rect x="1" y="437" width="1" height="51" fill="#000"/>
<rect x="-1" y="448" width="5" height="31" fill="#000"/>
<rect x="9" y="405" width="1" height="60" fill="#000"/>
<rect x="7" y="405" width="5" height="41" fill="#000"/>
<rect x="17" y="441" width="1" height="84" fill="#000"/>
<rect x="15" y="497" width="5" height="28" fill="#000"/>
<rect x="16" y="498" width="3" height="26" fill="#fff"/>
<rect x="25" y="415" width="1" height="60" fill="#000"/>
<rect x="23" y="420" width="5" height="21" fill="#000"/>
<rect x="24" y="421" width="3" height="19" fill="#fff"/>
<rect x="33" y="437" width="1" height="74" fill="#000"/>
<rect x="31" y="459" width="5" height="48" fill="#000"/>
<rect x="41" y="467" width="1" height="72" fill="#000"/>
<rect x="39" y="468" width="5" height="67" fill="#000"/>
<rect x="40" y="469" width="3" height="65" fill="#fff"/>
<rect x="49" y="470" width="1" height="28" fill="#000"/>
<rect x="47" y="476" width="5" height="18" fill="#000"/>
<rect x="48" y="477" width="3" height="16" fill="#fff"/>
<rect x="57" y="403" width="1" height="65" fill="#000"/>
<rect x="55" y="416" width="5" height="2" fill="#000"/>
<rect x="65" y="340" width="1" height="76" fill="#000"/>
<rect x="63" y="342" width="5" height="45" fill="#000"/>
<rect x="64" y="343" width="3" height="43" fill="#fff"/>
<rect x="73" y="364" width="1" height="50" fill="#000"/>
<rect x="71" y="382" width="5" height="32" fill="#000"/>
<rect x="81" y="350" width="1" height="37" fill="#000"/>
<rect x="79" y="365" width="5" height="1" fill="#000"/>
<rect x="89" y="322" width="1" height="41" fill="#000"/>
<rect x="87" y="344" width="5" height="14" fill="#000"/>
<rect x="88" y="345" width="3" height="12" fill="#fff"/>
<rect x="97" y="321" width="1" height="66" fill="#000"/>
<rect x="95" y="343" width="5" height="42" fill="#000"/>
<rect x="105" y="374" width="1" height="35" fill="#000"/>
<rect x="103" y="393" width="5" height="4" fill="#000"/>
<rect x="104" y="394" width="3" height="2" fill="#fff"/>
<rect x="113" y="313" width="1" height="47" fill="#000"/>
<rect x="111" y="332" width="5" height="18" fill="#000"/>
<rect x="121" y="336" width="1" height="33" fill="#000"/>
<rect x="119" y="355" width="5" height="4" fill="#000"/>
<rect x="129" y="361" width="1" height="69" fill="#000"/>
<rect x="127" y="371" width="5" height="48" fill="#000"/>
<rect x="137" y="395" width="1" height="56" fill="#000"/>
<rect x="135" y="402" width="5" height="42" fill="#000"/>
<rect x="136" y="403" width="3" height="40" fill="#fff"/>
<rect x="145" y="378" width="1" height="37" fill="#000"/>
<rect x="143" y="389" width="5" height="7" fill="#000"/>
<rect x="144" y="390" width="3" height="5" fill="#fff"/>
<rect x="153" y="408" width="1" height="29" fill="#000"/>
<rect x="151" y="417" width="5" height="3" fill="#000"/>
<rect x="161" y="363" width="1" height="38" fill="#000"/>
<rect x="159" y="368" width="5" height="32" fill="#000"/>
<rect x="160" y="369" width="3" height="30" fill="#fff"/>
<rect x="169" y="324" width="1" height="60" fill="#000"/>
<rect x="167" y="325" width="5" height="31" fill="#000"/>
<rect x="168" y="326" width="3" height="29" fill="#fff"/>
<rect x="177" y="303" width="1" height="38" fill="#000"/>
<rect x="175" y="322" width="5" height="12" fill="#000"/>
<rect x="185" y="417" width="1" height="49" fill="#000"/>
<rect x="183" y="422" width="5" height="37" fill="#000"/>
<rect x="193" y="410" width="1" height="32" fill="#000"/>
<rect x="191" y="414" width="5" height="19" fill="#000"/>
<rect x="192" y="415" width="3" height="17" fill="#fff"/>
<rect x="201" y="373" width="1" height="58" fill="#000"/>
<rect x="199" y="382" width="5" height="48" fill="#000"/>
<rect x="200" y="383" width="3" height="46" fill="#fff"/>
<rect x="209" y="391" width="1" height="23" fill="#000"/>
<rect x="207" y="398" width="5" height="8" fill="#000"/>
<rect x="217" y="367" width="1" height="23" fill="#000"/>
<rect x="215" y="375" width="5" height="5" fill="#000"/>
<rect x="216" y="376" width="3" height="3" fill="#fff"/>
<rect x="225" y="311" width="1" height="46" fill="#000"/>
<rect x="223" y="334" width="5" height="18" fill="#000"/>
<rect x="224" y="335" width="3" height="16" fill="#fff"/>
<rect x="233" y="353" width="1" height="35" fill="#000"/>
<rect x="231" y="363" width="5" height="10" fill="#000"/>
<rect x="241" y="361" width="1" height="42" fill="#000"/>
<rect x="239" y="380" width="5" height="15" fill="#000"/>
<rect x="240" y="381" width="3" height="13" fill="#fff"/>
<rect x="249" y="391" width="1" height="38" fill="#000"/>
<rect x="247" y="394" width="5" height="30" fill="#000"/>
<rect x="257" y="398" width="1" height="40" fill="#000"/>
<rect x="255" y="412" width="5" height="13" fill="#000"/>
<rect x="265" y="395" width="1" height="37" fill="#000"/>
<rect x="263" y="397" width="5" height="35" fill="#000"/>
<rect x="264" y="398" width="3" height="33" fill="#fff"/>
<rect x="273" y="329" width="1" height="34" fill="#000"/>
<rect x="271" y="350" width="5" height="6" fill="#000"/>
<rect x="272" y="351" width="3" height="4" fill="#fff"/>
<rect x="281" y="335" width="1" height="25" fill="#000"/>
<rect x="279" y="339" width="5" height="15" fill="#000"/>
<rect x="280" y="340" width="3" height="13" fill="#fff"/>
<rect x="289" y="336" width="1" height="41" fill="#000"/>
<rect x="287" y="346" width="5" height="30" fill="#000"/>
<rect x="297" y="420" width="1" height="112" fill="#000"/>
<rect x="295" y="420" width="5" height="112" fill="#000"/>
<rect x="305" y="503" width="1" height="50" fill="#000"/>
<rect x="303" y="510" width="5" height="10" fill="#000"/>
<rect x="304" y="511" width="3" height="8" fill="#fff"/>
<rect x="313" y="445" width="1" height="38" fill="#000"/>
<rect x="311" y="459" width="5" height="24" fill="#000"/>
<rect x="312" y="460" width="3" height="22" fill="#fff"/>
<rect x="321" y="464" width="1" height="46" fill="#000"/>
<rect x="319" y="475" width="5" height="26" fill="#000"/>
<rect x="329" y="471" width="1" height="78" fill="#000"/>
<rect x="327" y="504" width="5" height="7" fill="#000"/>
<rect x="337" y="510" width="1" height="55" fill="#000"/>
<rect x="335" y="523" width="5" height="16" fill="#000"/>
<rect x="336" y="524" width="3" height="14" fill="#fff"/>
<rect x="345" y="425" width="1" height="55" fill="#000"/>
<rect x="343" y="451" width="5" height="29" fill="#000"/>
<rect x="344" y="452" width="3" height="27" fill="#fff"/>
<rect x="353" y="391" width="1" height="51" fill="#000"/>
<rect x="351" y="395" width="5" height="36" fill="#000"/>
<rect x="352" y="396" width="3" height="34" fill="#fff"/>
<rect x="361" y="349" width="1" height="30" fill="#000"/>
<rect x="359" y="349" width="5" height="14" fill="#000"/>
<rect x="369" y="325" width="1" height="52" fill="#000"/>
<rect x="367" y="329" width="5" height="29" fill="#000"/>
<rect x="377" y="302" width="1" height="68" fill="#000"/>
<rect x="375" y="311" width="5" height="50" fill="#000"/>
<rect x="376" y="312" width="3" height="48" fill="#fff"/>
<rect x="385" y="280" width="1" height="44" fill="#000"/>
<rect x="383" y="285" width="5" height="23" fill="#000"/>
<rect x="393" y="258" width="1" height="53" fill="#000"/>
<rect x="391" y="294" width="5" height="10" fill="#000"/>
<rect x="392" y="295" width="3" height="8" fill="#fff"/>
<rect x="401" y="251" width="1" height="42" fill="#000"/>
<rect x="399" y="277" width="5" height="1" fill="#000"/>
<rect x="409" y="277" width="1" height="76" fill="#000"/>
<rect x="407" y="289" width="5" height="60" fill="#000"/>
<rect x="417" y="363" width="1" height="50" fill="#000"/>
<rect x="415" y="364" width="5" height="38" fill="#000"/>
<rect x="416" y="365" width="3" height="36" fill="#fff"/>
<rect x="425" y="371" width="1" height="67" fill="#000"/>
<rect x="423" y="400" width="5" height="22" fill="#000"/>
<rect x="433" y="336" width="1" height="30" fill="#000"/>
<rect x="431" y="349" width="5" height="1" fill="#000"/>
<rect x="441" y="336" width="1" height="44" fill="#000"/>
<rect x="439" y="344" width="5" height="10" fill="#000"/>
<rect x="440" y="345" width="3" height="8" fill="#fff"/>
<rect x="449" y="340" width="1" height="48" fill="#000"/>
<rect x="447" y="351" width="5" height="9" fill="#000"/>
<rect x="448" y="352" width="3" height="7" fill="#fff"/>
<rect x="457" y="308" width="1" height="55" fill="#000"/>
<rect x="455" y="321" width="5" height="36" fill="#000"/>
<rect x="456" y="322" width="3" height="34" fill="#fff"/>
<rect x="465" y="320" width="1" height="31" fill="#000"/>
<rect x="463" y="338" width="5" height="11" fill="#000"/>
<rect x="464" y="339" width="3" height="9" fill="#fff"/>
<rect x="473" y="280" width="1" height="94" fill="#000"/>
<rect x="471" y="284" width="5" height="34" fill="#000"/>
<rect x="472" y="285" width="3" height="32" fill="#fff"/>
<rect x="481" y="284" width="1" height="55" fill="#000"/>
<rect x="479" y="291" width="5" height="42" fill="#000"/>
<rect x="489" y="324" width="1" height="34" fill="#000"/>
<rect x="487" y="351" width="5" height="7" fill="#000"/>
<rect x="488" y="352" width="3" height="5" fill="#fff"/>
<rect x="497" y="342" width="1" height="55" fill="#000"/>
<rect x="495" y="360" width="5" height="24" fill="#000"/>
<rect x="505" y="343" width="1" height="40" fill="#000"/>
<rect x="503" y="348" width="5" height="14" fill="#000"/>
<rect x="513" y="263" width="1" height="85" fill="#000"/>
<rect x="511" y="263" width="5" height="75" fill="#000"/>
<rect x="512" y="264" width="3" height="73" fill="#fff"/>
<rect x="521" y="233" width="1" height="38" fill="#000"/>
<rect x="519" y="247" width="5" height="24" fill="#000"/>
<rect x="520" y="248" width="3" height="22" fill="#fff"/>
<rect x="529" y="120" width="1" height="107" fill="#000"/>
<rect x="527" y="132" width="5" height="93" fill="#000"/>
<rect x="528" y="133" width="3" height="91" fill="#fff"/>
<rect x="537" y="82" width="1" height="93" fill="#000"/>
<rect x="535" y="101" width="5" height="74" fill="#000"/>
<rect x="545" y="133" width="1" height="51" fill="#000"/>
<rect x="543" y="157" width="5" height="8" fill="#000"/>
<rect x="553" y="126" width="1" height="44" fill="#000"/>
<rect x="551" y="138" width="5" height="5" fill="#000"/>
<rect x="561" y="150" width="1" height="70" fill="#000"/>
<rect x="559" y="166" width="5" height="38" fill="#000"/>
<rect x="569" y="157" width="1" height="45" fill="#000"/>
<rect x="567" y="187" width="5" height="11" fill="#000"/>
<rect x="577" y="204" width="1" height="48" fill="#000"/>
<rect x="575" y="208" width="5" height="14" fill="#000"/>
<rect x="585" y="180" width="1" height="66" fill="#000"/>
<rect x="583" y="194" width="5" height="31" fill="#000"/>
<rect x="593" y="210" width="1" height="82" fill="#000"/>
<rect x="591" y="215" width="5" height="74" fill="#000"/>
<rect x="601" y="250" width="1" height="29" fill="#000"/>
<rect x="599" y="261" width="5" height="3" fill="#000"/>
<rect x="609" y="255" width="1" height="56" fill="#000"/>
<rect x="607" y="276" width="5" height="4" fill="#000"/>
<rect x="608" y="277" width="3" height="2" fill="#fff"/>
<rect x="617" y="208" width="1" height="35" fill="#000"/>
<rect x="615" y="211" width="5" height="25" fill="#000"/>
<rect x="616" y="212" width="3" height="23" fill="#fff"/>
<rect x="625" y="192" width="1" height="89" fill="#000"/>
<rect x="623" y="220" width="5" height="49" fill="#000"/>
<rect x="633" y="243" width="1" height="41" fill="#000"/>
<rect x="631" y="252" width="5" height="12" fill="#000"/>
<rect x="632" y="253" width="3" height="10" fill="#fff"/>
<rect x="641" y="267" width="1" height="59" fill="#000"/>
<rect x="639" y="278" width="5" height="37" fill="#000"/>
<rect x="649" y="281" width="1" height="49" fill="#000"/>
<rect x="647" y="287" width="5" height="33" fill="#000"/>
<rect x="657" y="280" width="1" height="38" fill="#000"/>
<rect x="655" y="285" width="5" height="22" fill="#000"/>
<rect x="665" y="292" width="1" height="27" fill="#000"/>
<rect x="663" y="295" width="5" height="16" fill="#000"/>
<rect x="664" y="296" width="3" height="14" fill="#fff"/>
<rect x="673" y="258" width="1" height="73" fill="#000"/>
<rect x="671" y="288" width="5" height="32" fill="#000"/>
<rect x="681" y="286" width="1" height="51" fill="#000"/>
<rect x="679" y="308" width="5" height="21" fill="#000"/>
<rect x="689" y="322" width="1" height="47" fill="#000"/>
<rect x="687" y="325" width="5" height="23" fill="#000"/>
<rect x="697" y="271" width="1" height="65" fill="#000"/>
<rect x="695" y="286" width="5" height="36" fill="#000"/>
<rect x="696" y="287" width="3" height="34" fill="#fff"/>
<rect x="705" y="260" width="1" height="38" fill="#000"/>
<rect x="703" y="274" width="5" height="11" fill="#000"/>
<rect x="704" y="275" width="3" height="9" fill="#fff"/>
<rect x="713" y="253" width="1" height="72" fill="#000"/>
<rect x="711" y="266" width="5" height="33" fill="#000"/>
<rect x="721" y="287" width="1" height="85" fill="#000"/>
<rect x="719" y="291" width="5" height="55" fill="#000"/>
<rect x="729" y="333" width="1" height="35" fill="#000"/>
<rect x="727" y="343" width="5" height="24" fill="#000"/>
<rect x="728" y="344" width="3" height="22" fill="#fff"/>
<rect x="737" y="275" width="1" height="57" fill="#000"/>
<rect x="735" y="291" width="5" height="39" fill="#000"/>
<rect x="736" y="292" width="3" height="37" fill="#fff"/>
<rect x="745" y="246" width="1" height="71" fill="#000"/>
<rect x="743" y="252" width="5" height="50" fill="#000"/>
<rect x="744" y="253" width="3" height="48" fill="#fff"/>
<rect x="753" y="228" width="1" height="42" fill="#000"/>
<rect x="751" y="236" width="5" height="29" fill="#000"/>
<rect x="761" y="239" width="1" height="38" fill="#000"/>
<rect x="759" y="264" width="5" height="7" fill="#000"/>
<rect x="769" y="216" width="1" height="48" fill="#000"/>
<rect x="767" y="248" width="5" height="11" fill="#000"/>
<rect x="768" y="249" width="3" height="9" fill="#fff"/>
<rect x="777" y="230" width="1" height="26" fill="#000"/>
<rect x="775" y="238" width="5" height="5" fill="#000"/>
<rect x="785" y="241" width="1" height="35" fill="#000"/>
<rect x="783" y="254" width="5" height="11" fill="#000"/>
<rect x="793" y="279" width="1" height="51" fill="#000"/>
<rect x="791" y="279" width="5" height="36" fill="#000"/>
<rect x="801" y="258" width="1" height="40" fill="#000"/>
<rect x="799" y="272" width="5" height="18" fill="#000"/>
<rect x="800" y="273" width="3" height="16" fill="#fff"/>
<rect x="809" y="218" width="1" height="40" fill="#000"/>
<rect x="807" y="223" width="5" height="33" fill="#000"/>
<rect x="808" y="224" width="3" height="31" fill="#fff"/>
<rect x="817" y="211" width="1" height="33" fill="#000"/>
<rect x="815" y="216" width="5" height="15" fill="#000"/>
<rect x="825" y="213" width="1" height="34" fill="#000"/>
<rect x="823" y="220" width="5" height="12" fill="#000"/>
<rect x="833" y="230" width="1" height="42" fill="#000"/>
<rect x="831" y="230" width="5" height="35" fill="#000"/>
<rect x="841" y="202" width="1" height="64" fill="#000"/>
<rect x="839" y="240" width="5" height="23" fill="#000"/>
<rect x="840" y="241" width="3" height="21" fill="#fff"/>
<rect x="849" y="192" width="1" height="91" fill="#000"/>
<rect x="847" y="216" width="5" height="56" fill="#000"/>
<rect x="857" y="256" width="1" height="40" fill="#000"/>
<rect x="855" y="271" width="5" height="4" fill="#000"/>
<rect x="856" y="272" width="3" height="2" fill="#fff"/>
<rect x="865" y="258" width="1" height="41" fill="#000"/>
<rect x="863" y="271" width="5" height="3" fill="#000"/>
<rect x="873" y="260" width="1" height="44" fill="#000"/>
<rect x="871" y="280" width="5" height="8" fill="#000"/>
<rect x="881" y="301" width="1" height="43" fill="#000"/>
<rect x="879" y="314" width="5" height="3" fill="#000"/>
<rect x="880" y="315" width="3" height="1" fill="#fff"/>
<rect x="889" y="292" width="1" height="51" fill="#000"/>
<rect x="887" y="314" width="5" height="19" fill="#000"/>
<rect x="897" y="304" width="1" height="54" fill="#000"/>
<rect x="895" y="315" width="5" height="22" fill="#000"/>
<rect x="905" y="336" width="1" height="37" fill="#000"/>
<rect x="903" y="342" width="5" height="20" fill="#000"/>
<rect x="904" y="343" width="3" height="18" fill="#fff"/>
<rect x="913" y="324" width="1" height="42" fill="#000"/>
<rect x="911" y="324" width="5" height="39" fill="#000"/>
<rect x="921" y="330" width="1" height="34" fill="#000"/>
<rect x="919" y="338" width="5" height="19" fill="#000"/>
<rect x="920" y="339" width="3" height="17" fill="#fff"/>
<rect x="929" y="309" width="1" height="29" fill="#000"/>
<rect x="927" y="325" width="5" height="5" fill="#000"/>
<rect x="937" y="303" width="1" height="40" fill="#000"/>
<rect x="935" y="306" width="5" height="29" fill="#000"/>
<rect x="936" y="307" width="3" height="27" fill="#fff"/>
<rect x="945" y="296" width="1" height="28" fill="#000"/>
<rect x="943" y="302" width="5" height="9" fill="#000"/>
<rect x="953" y="313" width="1" height="54" fill="#000"/>
<rect x="951" y="330" width="5" height="23" fill="#000"/>
<rect x="961" y="337" width="1" height="25" fill="#000"/>
<rect x="959" y="338" width="5" height="11" fill="#000"/>
<rect x="960" y="339" width="3" height="9" fill="#fff"/>
<rect x="969" y="324" width="1" height="81" fill="#000"/>
<rect x="967" y="344" width="5" height="57" fill="#000"/>
<rect x="977" y="400" width="1" height="31" fill="#000"/>
<rect x="975" y="400" width="5" height="28" fill="#000"/>
<rect x="985" y="414" width="1" height="30" fill="#000"/>
<rect x="983" y="422" width="5" height="4" fill="#000"/>
<rect x="984" y="423" width="3" height="2" fill="#fff"/>
<rect x="993" y="435" width="1" height="46" fill="#000"/>
<rect x="991" y="446" width="5" height="25" fill="#000"/>
<rect x="1001" y="446" width="1" height="42" fill="#000"/>
<rect x="999" y="450" width="5" height="34" fill="#000"/>
<rect x="1009" y="446" width="1" height="31" fill="#000"/>
<rect x="1007" y="454" width="5" height="21" fill="#000"/>
<rect x="1008" y="455" width="3" height="19" fill="#fff"/>
<rect x="1017" y="433" width="1" height="43" fill="#000"/>
<rect x="1015" y="434" width="5" height="35" fill="#000"/>
<rect x="1025" y="412" width="1" height="51" fill="#000"/>
<rect x="1023" y="450" width="5" height="2" fill="#000"/>
<rect x="1033" y="393" width="1" height="38" fill="#000"/>
<rect x="1031" y="398" width="5" height="19" fill="#000"/>
<rect x="1041" y="390" width="1" height="23" fill="#000"/>
<rect x="1039" y="395" width="5" height="7" fill="#000"/>
<rect x="1040" y="396" width="3" height="5" fill="#fff"/>
<rect x="1049" y="359" width="1" height="44" fill="#000"/>
<rect x="1047" y="370" width="5" height="31" fill="#000"/>
<rect x="1048" y="371" width="3" height="29" fill="#fff"/>
<rect x="1057" y="366" width="1" height="23" fill="#000"/>
<rect x="1055" y="366" width="5" height="12" fill="#000"/>
<rect x="1065" y="347" width="1" height="40" fill="#000"/>
<rect x="1063" y="358" width="5" height="27" fill="#000"/>
<rect x="1073" y="310" width="1" height="62" fill="#000"/>
<rect x="1071" y="315" width="5" height="56" fill="#000"/>
<rect x="1072" y="316" width="3" height="54" fill="#fff"/>
<rect x="1079" y="312" width="5" height="1" fill="#000"/>
<rect x="1089" y="300" width="1" height="36" fill="#000"/>
<rect x="1087" y="300" width="5" height="22" fill="#000"/>
<rect x="1097" y="326" width="1" height="56" fill="#000"/>
<rect x="1095" y="338" width="5" height="43" fill="#000"/>
<rect x="1105" y="340" width="1" height="31" fill="#000"/>
<rect x="1103" y="350" width="5" height="10" fill="#000"/>
<rect x="1104" y="351" width="3" height="8" fill="#fff"/>
<rect x="1113" y="305" width="1" height="38" fill="#000"/>
<rect x="1111" y="328" width="5" height="7" fill="#000"/>
<rect x="1112" y="329" width="3" height="5" fill="#fff"/>
<rect x="1121" y="324" width="1" height="19" fill="#000"/>
<rect x="1119" y="333" width="5" height="1" fill="#000"/>
<rect x="1129" y="290" width="1" height="35" fill="#000"/>
<rect x="1127" y="318" width="5" height="7" fill="#000"/>
<rect x="1128" y="319" width="3" height="5" fill="#fff"/>
<rect x="1137" y="294" width="1" height="39" fill="#000"/>
<rect x="1135" y="294" width="5" height="28" fill="#000"/>
<rect x="1136" y="295" width="3" height="26" fill="#fff"/>
<rect x="1145" y="282" width="1" height="37" fill="#000"/>
<rect x="1143" y="287" width="5" height="18" fill="#000"/>
<rect x="1144" y="288" width="3" height="16" fill="#fff"/>
<rect x="1153" y="296" width="1" height="32" fill="#000"/>
<rect x="1151" y="306" width="5" height="5" fill="#000"/>
<rect x="1161" y="300" width="1" height="30" fill="#000"/>
<rect x="1159" y="311" width="5" height="17" fill="#000"/>
<rect x="1169" y="321" width="1" height="45" fill="#000"/>
<rect x="1167" y="334" width="5" height="15" fill="#000"/>
<rect x="1168" y="335" width="3" height="13" fill="#fff"/>
<rect x="1177" y="329" width="1" height="65" fill="#000"/>
<rect x="1175" y="352" width="5" height="20" fill="#000"/>
<rect x="1185" y="341" width="1" height="31" fill="#000"/>
<rect x="1183" y="352" width="5" height="20" fill="#000"/>
<rect x="1184" y="353" width="3" height="18" fill="#fff"/>
<rect x="1193" y="275" width="1" height="47" fill="#000"/>
<rect x="1191" y="276" width="5" height="46" fill="#000"/>
<rect x="1192" y="277" width="3" height="44" fill="#fff"/>
<rect x="1201" y="271" width="1" height="50" fill="#000"/>
<rect x="1199" y="286" width="5" height="19" fill="#000"/>
<rect x="1200" y="287" width="3" height="17" fill="#fff"/>
<rect x="1209" y="189" width="1" height="57" fill="#000"/>
<rect x="1207" y="189" width="5" height="40" fill="#000"/>
<rect x="1208" y="190" width="3" height="38" fill="#fff"/>
<rect x="1217" y="189" width="1" height="32" fill="#000"/>
<rect x="1215" y="189" width="5" height="12" fill="#000"/>
<rect x="1225" y="145" width="1" height="32" fill="#000"/>
<rect x="1223" y="146" width="5" height="21" fill="#000"/>
<rect x="1233" y="120" width="1" height="44" fill="#000"/>
<rect x="1231" y="126" width="5" height="4" fill="#000"/>
<rect x="1241" y="120" width="1" height="31" fill="#000"/>
<rect x="1239" y="141" width="5" height="1" fill="#000"/>
<rect x="1249" y="115" width="1" height="47" fill="#000"/>
<rect x="1247" y="130" width="5" height="16" fill="#000"/>
<rect x="1257" y="146" width="1" height="33" fill="#000"/>
<rect x="1255" y="149" width="5" height="8" fill="#000"/>
<rect x="1256" y="150" width="3" height="6" fill="#fff"/>
<rect x="1265" y="118" width="1" height="29" fill="#000"/>
<rect x="1263" y="123" width="5" height="7" fill="#000"/>
<rect x="1273" y="111" width="1" height="23" fill="#000"/>
<rect x="1271" y="111" width="5" height="14" fill="#000"/>
<rect x="1281" y="98" width="1" height="33" fill="#000"/>
<rect x="1279" y="108" width="5" height="18" fill="#000"/>
<rect x="1280" y="109" width="3" height="16" fill="#fff"/>
<rect x="1289" y="119" width="1" height="16" fill="#000"/>
<rect x="1287" y="125" width="5" height="7" fill="#000"/>
<rect x="1297" y="111" width="1" height="22" fill="#000"/>
<rect x="1295" y="119" width="5" height="5" fill="#000"/>
<rect x="1296" y="120" width="3" height="3" fill="#fff"/>
<rect x="1305" y="91" width="1" height="37" fill="#000"/>
<rect x="1303" y="100" width="5" height="15" fill="#000"/>
<rect x="1313" y="101" width="1" height="23" fill="#000"/>
<rect x="1311" y="101" width="5" height="10" fill="#000"/>
<rect x="1312" y="102" width="3" height="8" fill="#fff"/>
<rect x="1321" y="51" width="1" height="55" fill="#000"/>
<rect x="1319" y="83" width="5" height="16" fill="#000"/>
<rect x="1329" y="78" width="1" height="24" fill="#000"/>
<rect x="1327" y="81" width="5" height="10" fill="#000"/>
<rect x="1328" y="82" width="3" height="8" fill="#fff"/>
<rect x="1337" y="56" width="1" height="36" fill="#000"/>
<rect x="1335" y="67" width="5" height="18" fill="#000"/>
<rect x="1336" y="68" width="3" height="16" fill="#fff"/>
<rect x="1345" y="64" width="1" height="72" fill="#000"/>
<rect x="1343" y="82" width="5" height="41" fill="#000"/>
<rect x="1353" y="97" width="1" height="31" fill="#000"/>
<rect x="1351" y="104" width="5" height="17" fill="#000"/>
<rect x="1352" y="105" width="3" height="15" fill="#fff"/>
<rect x="1361" y="101" width="1" height="33" fill="#000"/>
<rect x="1359" y="106" width="5" height="8" fill="#000"/>
<rect x="1360" y="107" width="3" height="6" fill="#fff"/>
<rect x="1369" y="80" width="1" height="26" fill="#000"/>
<rect x="1367" y="90" width="5" height="15" fill="#000"/>
<rect x="1368" y="91" width="3" height="13" fill="#fff"/>
<rect x="1377" y="70" width="1" height="29" fill="#000"/>
<rect x="1375" y="72" width="5" height="18" fill="#000"/>
<rect x="1376" y="73" width="3" height="16" fill="#fff"/>
<rect x="1385" y="76" width="1" height="66" fill="#000"/>
<rect x="1383" y="76" width="5" height="47" fill="#000"/>
<rect x="1393" y="111" width="1" height="28" fill="#000"/>
<rect x="1391" y="111" width="5" height="26" fill="#000"/>
<rect x="1401" y="92" width="1" height="31" fill="#000"/>
<rect x="1399" y="108" width="5" height="11" fill="#000"/>
<rect x="1400" y="109" width="3" height="9" fill="#fff"/>
<rect x="1409" y="123" width="1" height="19" fill="#000"/>
<rect x="1407" y="124" width="5" height="15" fill="#000"/>
<rect x="1408" y="125" width="3" height="13" fill="#fff"/>
<rect x="1417" y="89" width="1" height="32" fill="#000"/>
<rect x="1415" y="111" width="5" height="9" fill="#000"/>
<rect x="1425" y="111" width="1" height="27" fill="#000"/>
<rect x="1423" y="111" width="5" height="19" fill="#000"/>
<rect x="1433" y="124" width="1" height="35" fill="#000"/>
<rect x="1431" y="126" width="5" height="18" fill="#000"/>
<rect x="1441" y="111" width="1" height="26" fill="#000"/>
<rect x="1439" y="111" width="5" height="22" fill="#000"/>
<rect x="1440" y="112" width="3" height="20" fill="#fff"/>
<rect x="1449" y="91" width="1" height="36" fill="#000"/>
<rect x="1447" y="92" width="5" height="23" fill="#000"/>
<rect x="1448" y="93" width="3" height="21" fill="#fff"/>
</g>
<rect x="1243" y="105" width="241" height="6" fill="#00f000" shape-rendering="crispEdges"/>
<line x1="1371.3" y1="76" x2="1425.6" y2="141.1" stroke="#ff0000" stroke-width="3.4"/>
<polygon points="1431.0,147.6 1420.6,142.6 1428.0,136.5" fill="#ff0000"/>
<line x1="1431" y1="147" x2="1470.4" y2="78.2" stroke="#ff0000" stroke-width="3.4"/>
<polygon points="1474.6,70.8 1473.6,82.3 1465.2,77.5" fill="#ff0000"/>
<rect x="466.5" y="74.5" width="61" height="18" fill="#fff" stroke="#ff0000" stroke-width="1" shape-rendering="crispEdges"/>
<text x="468.6" y="90" font-size="17.6" fill="#ff0000" textLength="57.6" lengthAdjust="spacingAndGlyphs">26779.3</text>
<rect x="528" y="83" width="9" height="1" fill="#ff0000" shape-rendering="crispEdges"/>
<rect x="860.5" y="183.5" width="61" height="18" fill="#fff" stroke="#ff0000" stroke-width="1" shape-rendering="crispEdges"/>
<text x="862.6" y="199" font-size="17.6" fill="#ff0000" textLength="57.6" lengthAdjust="spacingAndGlyphs">25785.8</text>
<rect x="849" y="192" width="11" height="1" fill="#ff0000" shape-rendering="crispEdges"/>
<rect x="1106.5" y="383.5" width="61" height="18" fill="#fff" stroke="#ff0000" stroke-width="1" shape-rendering="crispEdges"/>
<text x="1108.6" y="399" font-size="17.6" fill="#ff0000" textLength="57.6" lengthAdjust="spacingAndGlyphs">23953.1</text>
<rect x="1168" y="392" width="9" height="1" fill="#ff0000" shape-rendering="crispEdges"/>
<rect x="930.5" y="475.5" width="61" height="18" fill="#fff" stroke="#ff0000" stroke-width="1" shape-rendering="crispEdges"/>
<text x="932.6" y="491" font-size="17.6" fill="#ff0000" textLength="57.6" lengthAdjust="spacingAndGlyphs">23117.2</text>
<rect x="992" y="484" width="9" height="1" fill="#ff0000" shape-rendering="crispEdges"/>
<rect x="1250.5" y="42.5" width="61" height="18" fill="#fff" stroke="#ff0000" stroke-width="1" shape-rendering="crispEdges"/>
<text x="1252.6" y="58" font-size="17.6" fill="#ff0000" textLength="57.6" lengthAdjust="spacingAndGlyphs">27067.4</text>
<rect x="1312" y="51" width="9" height="1" fill="#ff0000" shape-rendering="crispEdges"/>
<g shape-rendering="crispEdges">
<rect x="1146" y="106" width="8" height="1" fill="#ff0000"/>
<rect x="1153.5" y="104.5" width="3" height="3" fill="#fff" stroke="#ff0000"/>
<rect x="1156.5" y="94.5" width="73" height="24" fill="#fff" stroke="#ff0000"/>
</g>
<text x="1157.9" y="115" font-size="22.7" fill="#ff0000" textLength="70.4" lengthAdjust="spacingAndGlyphs">26563.8</text>
<text x="1507" y="112" font-size="21.5" fill="#10f010" font-family="Liberation Serif, Noto Serif CJK SC, serif" font-weight="300" textLength="107" lengthAdjust="spacingAndGlyphs">多空转折点</text>
<polygon points="1457,25 1469,25 1463,31" fill="#c0c0c0"/>
<g shape-rendering="crispEdges">
<rect x="0" y="24" width="1684" height="1" fill="#000"/>
<rect x="0" y="577" width="1684" height="1" fill="#000"/>
<rect x="0" y="579" width="1684" height="1" fill="#000"/>
<rect x="0" y="749" width="1684" height="1" fill="#000"/>
<rect x="0" y="751" width="1684" height="1" fill="#000"/>
<rect x="0" y="924" width="1684" height="1" fill="#000"/>
<rect x="1683" y="24" width="1" height="901" fill="#000"/>
<rect x="0" y="578" width="1683" height="1" fill="#fff"/>
<rect x="0" y="750" width="1683" height="1" fill="#fff"/>
<rect x="1683" y="578" width="1" height="1" fill="#fff"/>
<rect x="1683" y="750" width="1" height="1" fill="#fff"/>
</g>
<g shape-rendering="crispEdges">
<rect x="1684" y="46" width="2" height="1" fill="#000"/>
<rect x="1684" y="79" width="2" height="1" fill="#000"/>
<rect x="1684" y="112" width="2" height="1" fill="#000"/>
<rect x="1684" y="145" width="2" height="1" fill="#000"/>
<rect x="1684" y="178" width="2" height="1" fill="#000"/>
<rect x="1684" y="211" width="2" height="1" fill="#000"/>
<rect x="1684" y="244" width="2" height="1" fill="#000"/>
<rect x="1684" y="277" width="2" height="1" fill="#000"/>
<rect x="1684" y="310" width="2" height="1" fill="#000"/>
<rect x="1684" y="343" width="2" height="1" fill="#000"/>
<rect x="1684" y="376" width="2" height="1" fill="#000"/>
<rect x="1684" y="409" width="2" height="1" fill="#000"/>
<rect x="1684" y="442" width="2" height="1" fill="#000"/>
<rect x="1684" y="475" width="2" height="1" fill="#000"/>
<rect x="1684" y="508" width="2" height="1" fill="#000"/>
<rect x="1684" y="541" width="2" height="1" fill="#000"/>
<rect x="1684" y="574" width="2" height="1" fill="#000"/>
</g>
<text x="1689" y="50" font-size="9.4" fill="#000" textLength="33" lengthAdjust="spacingAndGlyphs">27113.0</text>
<text x="1689" y="116" font-size="9.4" fill="#000" textLength="33" lengthAdjust="spacingAndGlyphs">26510.0</text>
<text x="1689" y="149" font-size="9.4" fill="#000" textLength="33" lengthAdjust="spacingAndGlyphs">26213.0</text>
<text x="1689" y="182" font-size="9.4" fill="#000" textLength="33" lengthAdjust="spacingAndGlyphs">25907.0</text>
<text x="1689" y="215" font-size="9.4" fill="#000" textLength="33" lengthAdjust="spacingAndGlyphs">25610.0</text>
<text x="1689" y="248" font-size="9.4" fill="#000" textLength="33" lengthAdjust="spacingAndGlyphs">25304.0</text>
<text x="1689" y="281" font-size="9.4" fill="#000" textLength="33" lengthAdjust="spacingAndGlyphs">25007.0</text>
<text x="1689" y="314" font-size="9.4" fill="#000" textLength="33" lengthAdjust="spacingAndGlyphs">24701.0</text>
<text x="1689" y="347" font-size="9.4" fill="#000" textLength="33" lengthAdjust="spacingAndGlyphs">24404.0</text>
<text x="1689" y="380" font-size="9.4" fill="#000" textLength="33" lengthAdjust="spacingAndGlyphs">24098.0</text>
<text x="1689" y="413" font-size="9.4" fill="#000" textLength="33" lengthAdjust="spacingAndGlyphs">23801.0</text>
<text x="1689" y="446" font-size="9.4" fill="#000" textLength="33" lengthAdjust="spacingAndGlyphs">23495.0</text>
<text x="1689" y="479" font-size="9.4" fill="#000" textLength="33" lengthAdjust="spacingAndGlyphs">23198.0</text>
<text x="1689" y="512" font-size="9.4" fill="#000" textLength="33" lengthAdjust="spacingAndGlyphs">22892.0</text>
<text x="1689" y="545" font-size="9.4" fill="#000" textLength="33" lengthAdjust="spacingAndGlyphs">22595.0</text>
<text x="1689" y="578" font-size="9.4" fill="#000" textLength="33" lengthAdjust="spacingAndGlyphs">22298.0</text>
<rect x="1685" y="60" width="41" height="11" fill="#ff0000" shape-rendering="crispEdges"/>
<text x="1689" y="69.3" font-size="9.4" fill="#fff" textLength="33" lengthAdjust="spacingAndGlyphs">26928.3</text>
<rect x="1678.5" y="64.5" width="4" height="4" fill="#fff" stroke="#ff0000" shape-rendering="crispEdges"/>
<rect x="1685" y="75" width="41" height="11" fill="#ff0000" shape-rendering="crispEdges"/>
<text x="1689" y="84.3" font-size="9.4" fill="#fff" textLength="33" lengthAdjust="spacingAndGlyphs">26799.0</text>
<rect x="1685" y="86" width="41" height="11" fill="#000000" shape-rendering="crispEdges"/>
<text x="1689" y="95.3" font-size="9.4" fill="#fff" textLength="33" lengthAdjust="spacingAndGlyphs">26694.0</text>
<rect x="1685" y="100" width="41" height="11" fill="#32cd32" shape-rendering="crispEdges"/>
<text x="1689" y="109.3" font-size="9.4" fill="#fff" textLength="33" lengthAdjust="spacingAndGlyphs">26563.8</text>
<rect x="1678.5" y="104.5" width="4" height="4" fill="#fff" stroke="#32cd32" shape-rendering="crispEdges"/>
<rect x="1685" y="120" width="41" height="11" fill="#0000ff" shape-rendering="crispEdges"/>
<text x="1689" y="129.3" font-size="9.4" fill="#fff" textLength="33" lengthAdjust="spacingAndGlyphs">26381.5</text>
<rect x="1678.5" y="124.5" width="4" height="4" fill="#fff" stroke="#0000ff" shape-rendering="crispEdges"/>
<rect x="1685" y="132" width="41" height="11" fill="#0000ff" shape-rendering="crispEdges"/>
<text x="1689" y="141.3" font-size="9.4" fill="#fff" textLength="33" lengthAdjust="spacingAndGlyphs">26274.7</text>
<g shape-rendering="crispEdges">
<rect x="1" y="637" width="1" height="96" fill="#c0c0c0"/>
<rect x="9" y="637" width="1" height="88" fill="#c0c0c0"/>
<rect x="17" y="637" width="1" height="85" fill="#c0c0c0"/>
<rect x="25" y="637" width="1" height="76" fill="#c0c0c0"/>
<rect x="33" y="637" width="1" height="72" fill="#c0c0c0"/>
<rect x="41" y="637" width="1" height="67" fill="#c0c0c0"/>
<rect x="49" y="637" width="1" height="63" fill="#c0c0c0"/>
<rect x="57" y="637" width="1" height="56" fill="#c0c0c0"/>
<rect x="65" y="637" width="1" height="43" fill="#c0c0c0"/>
<rect x="73" y="637" width="1" height="38" fill="#c0c0c0"/>
<rect x="81" y="637" width="1" height="31" fill="#c0c0c0"/>
<rect x="89" y="637" width="1" height="24" fill="#c0c0c0"/>
<rect x="97" y="637" width="1" height="20" fill="#c0c0c0"/>
<rect x="105" y="637" width="1" height="17" fill="#c0c0c0"/>
<rect x="113" y="637" width="1" height="12" fill="#c0c0c0"/>
<rect x="121" y="637" width="1" height="8" fill="#c0c0c0"/>
<rect x="129" y="637" width="1" height="9" fill="#c0c0c0"/>
<rect x="137" y="637" width="1" height="10" fill="#c0c0c0"/>
<rect x="145" y="637" width="1" height="9" fill="#c0c0c0"/>
<rect x="153" y="637" width="1" height="10" fill="#c0c0c0"/>
<rect x="161" y="637" width="1" height="6" fill="#c0c0c0"/>
<rect x="169" y="636" width="1" height="1" fill="#c0c0c0"/>
<rect x="177" y="635" width="1" height="2" fill="#c0c0c0"/>
<rect x="185" y="637" width="1" height="4" fill="#c0c0c0"/>
<rect x="193" y="637" width="1" height="5" fill="#c0c0c0"/>
<rect x="201" y="637" width="1" height="4" fill="#c0c0c0"/>
<rect x="209" y="637" width="1" height="5" fill="#c0c0c0"/>
<rect x="217" y="637" width="1" height="4" fill="#c0c0c0"/>
<rect x="225" y="637" width="1" height="1" fill="#c0c0c0"/>
<rect x="233" y="637" width="1" height="1" fill="#c0c0c0"/>
<rect x="241" y="637" width="1" height="2" fill="#c0c0c0"/>
<rect x="249" y="637" width="1" height="3" fill="#c0c0c0"/>
<rect x="257" y="637" width="1" height="4" fill="#c0c0c0"/>
<rect x="265" y="637" width="1" height="4" fill="#c0c0c0"/>
<rect x="273" y="637" width="1" height="1" fill="#c0c0c0"/>
<rect x="281" y="636" width="1" height="1" fill="#c0c0c0"/>
<rect x="297" y="637" width="1" height="7" fill="#c0c0c0"/>
<rect x="305" y="637" width="1" height="13" fill="#c0c0c0"/>
<rect x="313" y="637" width="1" height="16" fill="#c0c0c0"/>
<rect x="321" y="637" width="1" height="18" fill="#c0c0c0"/>
<rect x="329" y="637" width="1" height="22" fill="#c0c0c0"/>
<rect x="337" y="637" width="1" height="26" fill="#c0c0c0"/>
<rect x="345" y="637" width="1" height="22" fill="#c0c0c0"/>
<rect x="353" y="637" width="1" height="16" fill="#c0c0c0"/>
<rect x="361" y="637" width="1" height="11" fill="#c0c0c0"/>
<rect x="369" y="637" width="1" height="4" fill="#c0c0c0"/>
<rect x="377" y="635" width="1" height="2" fill="#c0c0c0"/>
<rect x="385" y="629" width="1" height="8" fill="#c0c0c0"/>
<rect x="393" y="624" width="1" height="13" fill="#c0c0c0"/>
<rect x="401" y="618" width="1" height="19" fill="#c0c0c0"/>
<rect x="409" y="619" width="1" height="18" fill="#c0c0c0"/>
<rect x="417" y="621" width="1" height="16" fill="#c0c0c0"/>
<rect x="425" y="626" width="1" height="11" fill="#c0c0c0"/>
<rect x="433" y="626" width="1" height="11" fill="#c0c0c0"/>
<rect x="441" y="624" width="1" height="13" fill="#c0c0c0"/>
<rect x="449" y="624" width="1" height="13" fill="#c0c0c0"/>
<rect x="457" y="623" width="1" height="14" fill="#c0c0c0"/>
<rect x="465" y="623" width="1" height="14" fill="#c0c0c0"/>
<rect x="473" y="619" width="1" height="18" fill="#c0c0c0"/>
<rect x="481" y="621" width="1" height="16" fill="#c0c0c0"/>
<rect x="489" y="624" width="1" height="13" fill="#c0c0c0"/>
<rect x="497" y="628" width="1" height="9" fill="#c0c0c0"/>
<rect x="505" y="628" width="1" height="9" fill="#c0c0c0"/>
<rect x="513" y="623" width="1" height="14" fill="#c0c0c0"/>
<rect x="521" y="619" width="1" height="18" fill="#c0c0c0"/>
<rect x="529" y="608" width="1" height="29" fill="#c0c0c0"/>
<rect x="537" y="602" width="1" height="35" fill="#c0c0c0"/>
<rect x="545" y="598" width="1" height="39" fill="#c0c0c0"/>
<rect x="553" y="593" width="1" height="44" fill="#c0c0c0"/>
<rect x="561" y="594" width="1" height="43" fill="#c0c0c0"/>
<rect x="569" y="595" width="1" height="42" fill="#c0c0c0"/>
<rect x="577" y="598" width="1" height="39" fill="#c0c0c0"/>
<rect x="585" y="601" width="1" height="36" fill="#c0c0c0"/>
<rect x="593" y="607" width="1" height="30" fill="#c0c0c0"/>
<rect x="601" y="611" width="1" height="26" fill="#c0c0c0"/>
<rect x="609" y="615" width="1" height="22" fill="#c0c0c0"/>
<rect x="617" y="615" width="1" height="22" fill="#c0c0c0"/>
<rect x="625" y="618" width="1" height="19" fill="#c0c0c0"/>
<rect x="633" y="620" width="1" height="17" fill="#c0c0c0"/>
<rect x="641" y="626" width="1" height="11" fill="#c0c0c0"/>
<rect x="649" y="631" width="1" height="6" fill="#c0c0c0"/>
<rect x="657" y="634" width="1" height="3" fill="#c0c0c0"/>
<rect x="665" y="636" width="1" height="1" fill="#c0c0c0"/>
<rect x="681" y="637" width="1" height="3" fill="#c0c0c0"/>
<rect x="689" y="637" width="1" height="7" fill="#c0c0c0"/>
<rect x="697" y="637" width="1" height="6" fill="#c0c0c0"/>
<rect x="705" y="637" width="1" height="3" fill="#c0c0c0"/>
<rect x="713" y="637" width="1" height="4" fill="#c0c0c0"/>
<rect x="721" y="637" width="1" height="7" fill="#c0c0c0"/>
<rect x="729" y="637" width="1" height="8" fill="#c0c0c0"/>
<rect x="737" y="637" width="1" height="5" fill="#c0c0c0"/>
<rect x="745" y="637" width="1" height="1" fill="#c0c0c0"/>
<rect x="769" y="635" width="1" height="2" fill="#c0c0c0"/>
<rect x="777" y="633" width="1" height="4" fill="#c0c0c0"/>
<rect x="785" y="632" width="1" height="5" fill="#c0c0c0"/>
<rect x="793" y="635" width="1" height="2" fill="#c0c0c0"/>
<rect x="801" y="635" width="1" height="2" fill="#c0c0c0"/>
<rect x="809" y="631" width="1" height="6" fill="#c0c0c0"/>
<rect x="817" y="629" width="1" height="8" fill="#c0c0c0"/>
<rect x="825" y="628" width="1" height="9" fill="#c0c0c0"/>
<rect x="833" y="629" width="1" height="8" fill="#c0c0c0"/>
<rect x="841" y="628" width="1" height="9" fill="#c0c0c0"/>
<rect x="849" y="630" width="1" height="7" fill="#c0c0c0"/>
<rect x="857" y="631" width="1" height="6" fill="#c0c0c0"/>
<rect x="865" y="632" width="1" height="5" fill="#c0c0c0"/>
<rect x="873" y="634" width="1" height="3" fill="#c0c0c0"/>
<rect x="889" y="637" width="1" height="4" fill="#c0c0c0"/>
<rect x="897" y="637" width="1" height="7" fill="#c0c0c0"/>
<rect x="905" y="637" width="1" height="10" fill="#c0c0c0"/>
<rect x="913" y="637" width="1" height="12" fill="#c0c0c0"/>
<rect x="921" y="637" width="1" height="13" fill="#c0c0c0"/>
<rect x="929" y="637" width="1" height="14" fill="#c0c0c0"/>
<rect x="937" y="637" width="1" height="12" fill="#c0c0c0"/>
<rect x="945" y="637" width="1" height="11" fill="#c0c0c0"/>
<rect x="953" y="637" width="1" height="13" fill="#c0c0c0"/>
<rect x="961" y="637" width="1" height="14" fill="#c0c0c0"/>
<rect x="969" y="637" width="1" height="17" fill="#c0c0c0"/>
<rect x="977" y="637" width="1" height="21" fill="#c0c0c0"/>
<rect x="985" y="637" width="1" height="25" fill="#c0c0c0"/>
<rect x="993" y="637" width="1" height="30" fill="#c0c0c0"/>
<rect x="1001" y="637" width="1" height="35" fill="#c0c0c0"/>
<rect x="1009" y="637" width="1" height="36" fill="#c0c0c0"/>
<rect x="1017" y="637" width="1" height="38" fill="#c0c0c0"/>
<rect x="1025" y="637" width="1" height="38" fill="#c0c0c0"/>
<rect x="1033" y="637" width="1" height="35" fill="#c0c0c0"/>
<rect x="1041" y="637" width="1" height="30" fill="#c0c0c0"/>
<rect x="1049" y="637" width="1" height="25" fill="#c0c0c0"/>
<rect x="1057" y="637" width="1" height="21" fill="#c0c0c0"/>
<rect x="1065" y="637" width="1" height="18" fill="#c0c0c0"/>
<rect x="1073" y="637" width="1" height="11" fill="#c0c0c0"/>
<rect x="1081" y="637" width="1" height="6" fill="#c0c0c0"/>
<rect x="1089" y="637" width="1" height="2" fill="#c0c0c0"/>
<rect x="1097" y="637" width="1" height="2" fill="#c0c0c0"/>
<rect x="1105" y="637" width="1" height="1" fill="#c0c0c0"/>
<rect x="1113" y="637" width="1" height="1" fill="#c0c0c0"/>
<rect x="1121" y="635" width="1" height="2" fill="#c0c0c0"/>
<rect x="1129" y="633" width="1" height="4" fill="#c0c0c0"/>
<rect x="1137" y="630" width="1" height="7" fill="#c0c0c0"/>
<rect x="1145" y="627" width="1" height="10" fill="#c0c0c0"/>
<rect x="1153" y="626" width="1" height="11" fill="#c0c0c0"/>
<rect x="1161" y="628" width="1" height="9" fill="#c0c0c0"/>
<rect x="1169" y="629" width="1" height="8" fill="#c0c0c0"/>
<rect x="1177" y="631" width="1" height="6" fill="#c0c0c0"/>
<rect x="1185" y="633" width="1" height="4" fill="#c0c0c0"/>
<rect x="1193" y="628" width="1" height="9" fill="#c0c0c0"/>
<rect x="1201" y="627" width="1" height="10" fill="#c0c0c0"/>
<rect x="1209" y="619" width="1" height="18" fill="#c0c0c0"/>
<rect x="1217" y="614" width="1" height="23" fill="#c0c0c0"/>
<rect x="1225" y="608" width="1" height="29" fill="#c0c0c0"/>
<rect x="1233" y="601" width="1" height="36" fill="#c0c0c0"/>
<rect x="1241" y="597" width="1" height="40" fill="#c0c0c0"/>
<rect x="1249" y="595" width="1" height="42" fill="#c0c0c0"/>
<rect x="1257" y="593" width="1" height="44" fill="#c0c0c0"/>
<rect x="1265" y="592" width="1" height="45" fill="#c0c0c0"/>
<rect x="1273" y="591" width="1" height="46" fill="#c0c0c0"/>
<rect x="1281" y="589" width="1" height="48" fill="#c0c0c0"/>
<rect x="1289" y="590" width="1" height="47" fill="#c0c0c0"/>
<rect x="1297" y="591" width="1" height="46" fill="#c0c0c0"/>
<rect x="1305" y="591" width="1" height="46" fill="#c0c0c0"/>
<rect x="1313" y="591" width="1" height="46" fill="#c0c0c0"/>
<rect x="1321" y="591" width="1" height="46" fill="#c0c0c0"/>
<rect x="1329" y="590" width="1" height="47" fill="#c0c0c0"/>
<rect x="1337" y="590" width="1" height="47" fill="#c0c0c0"/>
<rect x="1345" y="595" width="1" height="42" fill="#c0c0c0"/>
<rect x="1353" y="597" width="1" height="40" fill="#c0c0c0"/>
<rect x="1361" y="600" width="1" height="37" fill="#c0c0c0"/>
<rect x="1369" y="601" width="1" height="36" fill="#c0c0c0"/>
<rect x="1377" y="601" width="1" height="36" fill="#c0c0c0"/>
<rect x="1385" y="605" width="1" height="32" fill="#c0c0c0"/>
<rect x="1393" y="609" width="1" height="28" fill="#c0c0c0"/>
<rect x="1401" y="611" width="1" height="26" fill="#c0c0c0"/>
<rect x="1409" y="614" width="1" height="23" fill="#c0c0c0"/>
<rect x="1417" y="616" width="1" height="21" fill="#c0c0c0"/>
<rect x="1425" y="618" width="1" height="19" fill="#c0c0c0"/>
<rect x="1433" y="622" width="1" height="15" fill="#c0c0c0"/>
<rect x="1441" y="622" width="1" height="15" fill="#c0c0c0"/>
<rect x="1449" y="622" width="1" height="15" fill="#c0c0c0"/>
<rect x="1684" y="580" width="1" height="1" fill="#000"/>
<rect x="1684" y="637" width="2" height="1" fill="#000"/>
<rect x="1684" y="743" width="2" height="1" fill="#000"/>
</g>
<path d="M1337 590.5h2M1313 591.5h3M1319 591.5h3M1325 591.5h3M1331 591.5h3M1343 591.5h3M1349 591.5h2M1302 592.5h2M1307 592.5h3M1355 592.5h3M1296 593.5h2M1361 593.5h3M1367 594.5h3M1289 595.5h3M1373 595.5h3M1379 596.5h3M1283 597.5h2M1385 597.5h3M1391 598.5h2M1277 599.5h3M588 600.5h2M593 600.5h3M599 600.5h3M1397 600.5h3M605 601.5h3M1272 601.5h2M581 602.5h3M611 602.5h3M1403 602.5h3M575 604.5h2M618 604.5h2M1266 604.5h2M1409 604.5h3M570 606.5h2M624 606.5h2M1416 606.5h2M1260 607.5h2M1421 607.5h2M630 608.5h2M563 609.5h3M1427 609.5h3M635 610.5h2M1253 611.5h2M1433 611.5h3M557 612.5h2M642 613.5h2M1440 613.5h2M551 614.5h3M1247 614.5h2M1445 614.5h2M546 616.5h2M648 616.5h2M1241 617.5h2M539 618.5h3M653 618.5h2M533 620.5h3M1235 620.5h2M659 621.5h3M527 622.5h2M1229 622.5h3M455 623.5h3M461 623.5h3M467 623.5h3M473 623.5h3M479 623.5h3M485 623.5h3M491 623.5h2M515 623.5h3M521 623.5h3M665 623.5h2M444 624.5h2M449 624.5h2M497 624.5h3M503 624.5h3M509 624.5h3M1223 624.5h3M671 625.5h2M437 626.5h2M1217 626.5h2M431 627.5h3M1211 627.5h3M678 628.5h2M1205 628.5h3M425 629.5h2M1193 629.5h3M1199 629.5h3M684 630.5h2M863 630.5h3M869 630.5h3M875 630.5h3M1181 630.5h3M1187 630.5h3M419 631.5h3M839 631.5h3M845 631.5h3M851 631.5h3M857 631.5h3M881 631.5h3M1170 631.5h2M1175 631.5h3M689 632.5h2M828 632.5h2M833 632.5h3M887 632.5h3M1163 632.5h3M821 633.5h3M893 633.5h2M1157 633.5h3M413 634.5h2M695 634.5h2M815 634.5h3M1151 634.5h3M809 635.5h3M900 635.5h2M701 636.5h3M803 636.5h2M905 636.5h2M1145 636.5h2M707 637.5h2M791 637.5h3M797 637.5h2M1140 637.5h2M785 638.5h3M911 638.5h3M233 639.5h3M281 639.5h3M287 639.5h3M293 639.5h3M714 639.5h2M774 639.5h2M779 639.5h3M1134 639.5h2M221 640.5h3M227 640.5h3M239 640.5h3M245 640.5h3M251 640.5h3M257 640.5h3M263 640.5h3M269 640.5h3M275 640.5h2M299 640.5h3M719 640.5h3M767 640.5h3M917 640.5h3M209 641.5h3M215 641.5h3M305 641.5h3M401 641.5h2M725 641.5h3M731 641.5h3M755 641.5h3M761 641.5h3M923 641.5h2M1128 641.5h2M197 642.5h3M203 642.5h3M311 642.5h3M737 642.5h3M743 642.5h3M749 642.5h3M180 643.5h2M185 643.5h3M191 643.5h2M317 643.5h3M929 643.5h3M1122 643.5h2M396 644.5h2M935 644.5h2M173 645.5h2M324 645.5h2M168 646.5h2M329 646.5h2M942 646.5h2M1115 646.5h2M390 647.5h2M947 647.5h3M161 648.5h3M335 648.5h3M953 648.5h3M1109 648.5h3M156 649.5h2M960 649.5h2M965 649.5h2M341 650.5h3M383 650.5h2M971 650.5h3M1104 650.5h2M149 651.5h3M347 651.5h2M977 651.5h3M377 652.5h2M983 652.5h3M143 653.5h3M353 653.5h3M371 653.5h3M1098 653.5h2M359 654.5h3M365 654.5h3M990 654.5h2M138 655.5h2M995 655.5h3M1092 656.5h2M1001 657.5h3M132 658.5h2M1007 659.5h3M1086 659.5h2M1013 661.5h2M125 662.5h2M1079 662.5h3M1019 663.5h2M1025 665.5h2M1073 665.5h2M119 666.5h2M1031 667.5h3M1067 667.5h2M1037 668.5h2M1061 668.5h3M1043 669.5h3M1049 669.5h3M1055 669.5h3M107 675.5h2M90 688.5h2M84 693.5h2M78 698.5h2M30 734.5h2M23 737.5h3M18 739.5h2M0 740.5h2M5 741.5h3M11 741.5h3M17.5 740v1M29.5 735v1M35.5 732v1M36.5 731v1M37.5 730v1M41.5 728v1M42.5 727v1M43.5 726v1M47.5 724v1M48.5 723v1M49.5 722v1M53.5 719v1M54.5 718v1M55.5 717v1M59.5 714v1M60.5 713v1M61.5 712v1M65.5 709v1M66.5 708v1M67.5 707v1M71.5 704v1M72.5 703v1M73.5 702v1M77.5 699v1M83.5 694v1M89.5 689v1M95.5 685v1M96.5 684v1M97.5 683v1M101.5 680v1M102.5 679v1M103.5 678v1M109.5 674v1M113.5 671v1M114.5 670v1M115.5 669v1M121.5 665v1M127.5 661v1M131.5 659v1M137.5 656v1M155.5 650v1M167.5 647v1M175.5 644v1M179.5 644v1M193.5 642v1M277.5 639v1M323.5 644v1M331.5 647v1M349.5 652v1M379.5 651v1M385.5 649v1M389.5 648v1M395.5 645v1M403.5 640v1M407.5 638v1M408.5 637v1M409.5 636v1M415.5 633v1M427.5 628v1M439.5 625v1M443.5 625v1M451.5 623v1M493.5 624v1M529.5 621v1M545.5 617v1M559.5 611v1M569.5 607v1M577.5 603v1M587.5 601v1M617.5 603v1M623.5 605v1M629.5 607v1M637.5 611v1M641.5 612v1M647.5 615v1M655.5 619v1M667.5 624v1M673.5 626v1M677.5 627v1M683.5 629v1M691.5 633v1M697.5 635v1M709.5 638v1M713.5 638v1M773.5 640v1M799.5 636v1M805.5 635v1M827.5 633v1M895.5 634v1M899.5 634v1M907.5 637v1M925.5 642v1M937.5 645v1M941.5 645v1M959.5 648v1M967.5 650v1M989.5 653v1M1015.5 662v1M1021.5 664v1M1027.5 666v1M1039.5 669v1M1069.5 666v1M1075.5 664v1M1085.5 660v1M1091.5 657v1M1097.5 654v1M1103.5 651v1M1117.5 645v1M1121.5 644v1M1127.5 642v1M1133.5 640v1M1139.5 638v1M1147.5 635v1M1169.5 632v1M1219.5 625v1M1237.5 619v1M1243.5 616v1M1249.5 613v1M1255.5 610v1M1259.5 608v1M1265.5 605v1M1271.5 602v1M1285.5 596v1M1295.5 594v1M1301.5 593v1M1339.5 591v1M1351.5 592v1M1393.5 599v1M1415.5 605v1M1423.5 608v1M1439.5 612v1M1447.5 615v1" fill="none" stroke="#ff0000" stroke-width="1" shape-rendering="crispEdges"/>
<text x="-1" y="592" font-size="9.4" fill="#000" textLength="126" lengthAdjust="spacingAndGlyphs">MACD(12,26,9) 184.94 254.23</text>
<text x="1687" y="590.3" font-size="9.4" fill="#000" textLength="28" lengthAdjust="spacingAndGlyphs">635.44</text>
<text x="1687" y="641" font-size="9.4" fill="#000" textLength="18" lengthAdjust="spacingAndGlyphs">0.00</text>
<text x="1687" y="745.5" font-size="9.4" fill="#000" textLength="37" lengthAdjust="spacingAndGlyphs">-1253.86</text>
<g shape-rendering="crispEdges" stroke="#c0c0c0" stroke-dasharray="3,3">
<line x1="0" y1="787.5" x2="1683" y2="787.5"/>
<line x1="0" y1="838.5" x2="1683" y2="838.5"/>
<line x1="0" y1="899.5" x2="1683" y2="899.5"/>
</g>
<path d="M1336 798.5h2M1332 799.5h4M1329 800.5h3M1280 801.5h2M1327 801.5h2M1231 802.5h2M1234 802.5h2M1276 802.5h4M1325 802.5h2M1236 803.5h2M1272 803.5h4M1323 803.5h2M1228 804.5h2M1238 804.5h2M1265 804.5h7M1313 804.5h10M1240 805.5h4M1262 805.5h3M1310 805.5h3M1225 806.5h2M1244 806.5h7M1260 806.5h2M1308 806.5h2M1251 807.5h9M1297 807.5h11M1222 808.5h2M1294 808.5h3M1209 809.5h4M1220 809.5h2M1292 809.5h2M1213 810.5h2M1289 810.5h3M1215 811.5h4M1375 812.5h3M548 813.5h5M1373 813.5h2M543 814.5h5M537 815.5h6M1370 815.5h2M1368 816.5h2M1353 817.5h2M1366 817.5h2M398 818.5h3M1351 818.5h2M1355 818.5h2M396 819.5h2M1349 819.5h2M1357 819.5h2M1363 819.5h2M393 820.5h3M519 820.5h3M1144 820.5h2M1347 820.5h2M1359 820.5h4M388 821.5h5M515 821.5h4M1141 821.5h3M1345 821.5h2M377 822.5h11M513 822.5h2M1138 822.5h3M1193 822.5h2M568 823.5h2M1073 823.5h9M1136 823.5h2M1195 823.5h2M374 824.5h2M561 824.5h7M1082 824.5h3M1134 824.5h2M1197 824.5h2M571 825.5h2M1085 825.5h2M1199 825.5h3M1447 825.5h2M573 826.5h2M809 826.5h2M1087 826.5h3M1131 826.5h2M1445 826.5h2M370 827.5h2M811 827.5h4M1129 827.5h2M1443 827.5h2M367 828.5h3M576 828.5h3M775 828.5h3M815 828.5h11M1127 828.5h2M1402 828.5h2M1441 828.5h2M362 829.5h5M458 829.5h2M579 829.5h7M770 829.5h5M1125 829.5h2M1154 829.5h2M1404 829.5h2M169 830.5h3M360 830.5h2M454 830.5h2M460 830.5h2M745 830.5h2M768 830.5h2M779 830.5h2M1113 830.5h3M1123 830.5h2M1406 830.5h2M1415 830.5h4M172 831.5h6M280 831.5h2M358 831.5h2M452 831.5h2M462 831.5h2M747 831.5h2M766 831.5h2M1111 831.5h2M1116 831.5h7M1157 831.5h2M1387 831.5h2M1408 831.5h7M1419 831.5h2M166 832.5h2M277 832.5h3M356 832.5h2M439 832.5h5M464 832.5h2M749 832.5h2M1159 832.5h2M1389 832.5h2M1421 832.5h2M227 833.5h2M274 833.5h3M283 833.5h2M354 833.5h2M410 833.5h2M434 833.5h5M444 833.5h7M751 833.5h4M763 833.5h2M783 833.5h2M1108 833.5h2M1161 833.5h2M1394 833.5h2M1423 833.5h3M88 834.5h2M221 834.5h2M412 834.5h3M482 834.5h2M740 834.5h2M755 834.5h8M837 834.5h2M1163 834.5h2M1392 834.5h2M86 835.5h2M90 835.5h2M113 835.5h2M271 835.5h2M415 835.5h2M484 835.5h2M1105 835.5h2M1165 835.5h2M1427 835.5h2M84 836.5h2M92 836.5h2M115 836.5h7M161 836.5h2M231 836.5h2M486 836.5h2M630 836.5h3M703 836.5h2M1167 836.5h3M1429 836.5h2M81 837.5h3M110 837.5h2M217 837.5h2M233 837.5h3M288 837.5h2M488 837.5h2M600 837.5h4M627 837.5h3M700 837.5h3M833 837.5h2M95 838.5h2M108 838.5h2M201 838.5h2M215 838.5h2M236 838.5h5M490 838.5h2M598 838.5h2M604 838.5h4M625 838.5h2M698 838.5h2M708 838.5h2M1050 838.5h5M1432 838.5h2M78 839.5h2M97 839.5h4M199 839.5h2M203 839.5h2M213 839.5h2M241 839.5h2M503 839.5h2M596 839.5h2M608 839.5h2M849 839.5h17M1055 839.5h4M76 840.5h2M101 840.5h6M144 840.5h2M205 840.5h2M211 840.5h2M493 840.5h2M501 840.5h2M594 840.5h2M866 840.5h2M1059 840.5h4M74 841.5h2M126 841.5h2M137 841.5h7M146 841.5h2M196 841.5h2M207 841.5h4M264 841.5h2M499 841.5h2M712 841.5h2M868 841.5h2M937 841.5h2M1063 841.5h3M132 842.5h5M148 842.5h2M194 842.5h2M262 842.5h2M496 842.5h3M939 842.5h7M1097 842.5h2M1183 842.5h2M129 843.5h3M150 843.5h2M246 843.5h2M260 843.5h2M662 843.5h3M666 843.5h2M871 843.5h2M1042 843.5h2M152 844.5h2M258 844.5h2M658 844.5h4M668 844.5h2M190 845.5h2M249 845.5h9M655 845.5h3M670 845.5h2M874 845.5h2M641 846.5h2M652 846.5h3M672 846.5h3M643 847.5h9M675 847.5h4M1177 847.5h2M41 848.5h3M50 848.5h2M185 848.5h3M679 848.5h4M1036 848.5h2M8 849.5h2M39 849.5h2M44 849.5h6M315 849.5h2M683 849.5h2M728 849.5h2M6 850.5h2M10 850.5h2M30 850.5h2M37 850.5h2M317 850.5h2M685 850.5h2M721 850.5h7M880 850.5h2M926 850.5h3M4 851.5h2M12 851.5h2M35 851.5h2M319 851.5h2M687 851.5h3M882 851.5h2M924 851.5h2M958 851.5h2M1 852.5h3M14 852.5h2M33 852.5h2M321 852.5h3M884 852.5h2M921 852.5h3M956 852.5h2M16 853.5h2M324 853.5h6M886 853.5h2M330 854.5h5M888 854.5h4M953 854.5h2M335 855.5h3M892 855.5h6M304 856.5h2M898 856.5h4M302 857.5h2M902 857.5h4M299 858.5h3M297 859.5h2M907 859.5h2M909 860.5h2M912 862.5h2M1023 864.5h2M971 866.5h2M1009 866.5h2M973 867.5h2M1011 867.5h2M981 868.5h4M1013 868.5h2M976 869.5h5M1015 869.5h2M993 875.5h2M995 876.5h4M999 877.5h3M0.5 853v1M18.5 852v1M19.5 851v1M20.5 850v1M21.5 849v1M22.5 848v1M23.5 847v1M24.5 846v1M25.5 845v1M26.5 846v1M27.5 847v1M28.5 848v1M29.5 849v1M32.5 851v1M52.5 847v1M53.5 846v1M54.5 845v1M55.5 844v1M56.5 843v1M57.5 842v1M58.5 841v1M59.5 840v1M60.5 839v1M61.5 838v1M62.5 837v1M63.5 836v1M64.5 835v1M65.5 834v1M66.5 835v1M67.5 836v1M68.5 837v1M69.5 838v1M70.5 839v1M71.5 840v1M72.5 841v1M73.5 842v1M80.5 838v1M94.5 837v1M107.5 839v1M112.5 836v1M122.5 837v1M123.5 838v1M124.5 839v1M125.5 840v1M128.5 842v1M154.5 843v1M155.5 842v1M156.5 841v1M157.5 840v1M158.5 839v1M159.5 838v1M160.5 837v1M163.5 835v1M164.5 834v1M165.5 833v1M168.5 831v1M177.5 832v1M178.5 833v2M179.5 835v1M179.5 837v1M180.5 838v2M181.5 840v2M182.5 842v2M183.5 844v2M184.5 846v2M185.5 849v1M188.5 847v1M189.5 846v1M192.5 844v1M193.5 843v1M198.5 840v1M219.5 836v1M220.5 835v1M223.5 833v1M224.5 832v1M225.5 831v1M226.5 832v1M229.5 834v1M230.5 835v1M243.5 840v1M244.5 841v1M245.5 842v1M248.5 844v1M266.5 840v1M267.5 839v1M268.5 838v1M269.5 837v1M270.5 836v1M273.5 834v1M282.5 832v1M285.5 834v1M286.5 835v1M287.5 836v1M289.5 838v1M290.5 839v2M291.5 841v2M291.5 844v1M292.5 845v3M293.5 848v2M294.5 850v3M295.5 853v3M296.5 856v2M297.5 858v1M306.5 855v1M307.5 854v1M308.5 853v1M309.5 852v1M310.5 851v1M311.5 850v1M312.5 848v1M313.5 847v1M314.5 848v1M338.5 853v2M339.5 852v1M340.5 850v2M341.5 849v1M342.5 847v2M343.5 846v1M344.5 843v2M345.5 842v1M346.5 841v1M347.5 840v1M348.5 839v1M349.5 838v1M350.5 837v1M351.5 836v1M352.5 835v1M353.5 834v1M372.5 826v1M373.5 825v1M376.5 823v1M401.5 817v1M402.5 818v2M403.5 820v2M404.5 822v2M405.5 824v2M406.5 826v2M407.5 828v2M408.5 830v2M409.5 832v1M417.5 836v1M418.5 837v1M419.5 838v1M420.5 839v1M421.5 840v2M422.5 842v1M423.5 843v1M424.5 844v1M425.5 845v1M426.5 843v2M427.5 842v1M428.5 841v1M429.5 839v2M430.5 838v1M431.5 837v1M432.5 835v2M433.5 834v1M451.5 832v1M456.5 829v1M457.5 828v1M466.5 831v1M467.5 830v1M468.5 829v1M469.5 828v1M470.5 827v1M471.5 826v1M472.5 825v1M473.5 824v1M474.5 825v1M475.5 826v1M476.5 827v1M477.5 828v2M478.5 830v1M479.5 831v1M480.5 832v1M481.5 833v1M492.5 839v1M495.5 841v1M505.5 838v1M506.5 836v2M507.5 834v2M508.5 832v2M509.5 830v2M510.5 828v2M511.5 826v2M512.5 824v2M513.5 823v1M522.5 818v2M523.5 817v1M524.5 815v2M525.5 814v1M526.5 811v2M527.5 810v1M528.5 808v2M529.5 807v1M530.5 808v1M531.5 809v1M532.5 810v1M533.5 811v1M534.5 812v1M535.5 813v1M536.5 814v1M553.5 812v1M554.5 813v2M555.5 815v1M556.5 816v2M557.5 818v1M558.5 819v2M559.5 821v1M560.5 822v2M570.5 824v1M575.5 827v1M586.5 830v2M587.5 832v1M588.5 833v2M589.5 835v1M590.5 836v2M591.5 838v1M592.5 839v2M593.5 841v1M610.5 838v1M611.5 836v2M612.5 835v1M613.5 834v1M614.5 833v1M615.5 830v1M615.5 832v1M616.5 829v1M617.5 828v1M618.5 829v1M619.5 830v1M620.5 832v1M621.5 833v2M622.5 835v1M623.5 836v1M624.5 837v1M633.5 835v1M634.5 836v2M635.5 838v1M636.5 839v1M637.5 840v2M638.5 842v1M639.5 843v1M640.5 844v2M665.5 842v1M690.5 849v2M691.5 848v1M692.5 846v2M693.5 845v1M694.5 843v2M695.5 842v1M696.5 840v2M697.5 839v1M705.5 835v1M706.5 836v1M707.5 837v1M710.5 839v1M711.5 840v1M714.5 842v1M715.5 843v1M716.5 844v1M717.5 845v2M718.5 847v1M719.5 848v1M720.5 849v1M730.5 847v2M731.5 846v1M732.5 844v2M733.5 843v1M734.5 841v2M735.5 840v1M736.5 838v2M737.5 837v1M738.5 836v1M739.5 835v1M742.5 833v1M743.5 832v1M744.5 831v1M765.5 832v1M778.5 829v1M781.5 831v1M782.5 832v1M785.5 834v1M786.5 835v2M787.5 837v1M788.5 838v2M789.5 840v1M790.5 841v2M791.5 843v1M792.5 844v2M793.5 846v1M794.5 845v1M795.5 843v2M796.5 842v1M797.5 841v1M798.5 840v1M799.5 838v2M800.5 837v1M801.5 836v1M802.5 835v1M803.5 833v2M804.5 832v1M805.5 831v1M806.5 830v1M807.5 828v2M808.5 827v1M826.5 829v1M827.5 830v1M828.5 831v1M829.5 832v2M830.5 834v1M831.5 835v1M832.5 836v1M835.5 836v1M836.5 835v1M839.5 833v1M840.5 832v1M841.5 831v1M842.5 832v1M843.5 833v1M844.5 834v1M845.5 835v1M846.5 836v1M847.5 837v1M848.5 838v1M870.5 842v1M873.5 844v1M876.5 846v1M877.5 847v1M878.5 848v1M879.5 849v1M906.5 858v1M911.5 861v1M914.5 861v1M915.5 859v2M916.5 858v1M917.5 857v1M918.5 856v1M919.5 854v2M920.5 853v1M929.5 849v1M930.5 848v1M931.5 847v1M932.5 846v1M933.5 845v1M934.5 844v1M935.5 843v1M936.5 842v1M946.5 843v2M947.5 845v1M948.5 846v2M949.5 848v1M950.5 849v2M951.5 851v1M952.5 852v2M955.5 853v1M960.5 850v1M961.5 849v1M962.5 850v2M963.5 852v2M964.5 854v2M965.5 856v2M966.5 858v2M967.5 860v2M968.5 862v2M969.5 864v1M970.5 865v1M975.5 868v1M985.5 867v1M986.5 868v1M987.5 869v1M988.5 870v1M989.5 871v1M990.5 872v1M991.5 873v1M992.5 874v1M1002.5 875v2M1003.5 874v1M1004.5 873v1M1005.5 871v2M1006.5 870v1M1007.5 869v1M1008.5 867v2M1017.5 870v1M1018.5 869v1M1019.5 868v1M1020.5 867v1M1021.5 866v1M1022.5 865v1M1025.5 863v1M1026.5 861v2M1027.5 860v1M1028.5 858v2M1029.5 857v1M1030.5 855v2M1031.5 854v1M1032.5 852v2M1033.5 851v1M1034.5 850v1M1035.5 849v1M1038.5 847v1M1039.5 846v1M1040.5 845v1M1041.5 844v1M1044.5 842v1M1045.5 841v1M1046.5 840v1M1047.5 839v1M1048.5 838v1M1049.5 837v1M1065.5 840v1M1066.5 838v2M1067.5 836v2M1068.5 834v2M1069.5 831v3M1070.5 829v2M1071.5 827v2M1072.5 825v2M1073.5 824v1M1089.5 827v1M1090.5 828v2M1091.5 830v2M1092.5 832v2M1093.5 834v2M1094.5 836v2M1095.5 838v2M1096.5 840v2M1097.5 843v1M1099.5 841v1M1100.5 840v1M1101.5 839v1M1102.5 838v1M1103.5 837v1M1104.5 836v1M1107.5 834v1M1110.5 832v1M1133.5 825v1M1146.5 821v1M1147.5 822v1M1148.5 823v1M1149.5 824v1M1150.5 825v1M1151.5 826v1M1152.5 827v1M1153.5 828v1M1156.5 830v1M1170.5 837v2M1171.5 839v1M1172.5 840v1M1173.5 841v2M1174.5 843v1M1175.5 844v1M1176.5 845v2M1179.5 846v1M1180.5 845v1M1181.5 844v1M1182.5 843v1M1185.5 840v2M1186.5 838v2M1187.5 835v1M1187.5 837v1M1188.5 833v2M1189.5 830v3M1190.5 828v2M1191.5 826v2M1192.5 824v2M1193.5 823v1M1201.5 826v1M1202.5 823v2M1203.5 821v2M1204.5 819v2M1205.5 816v1M1205.5 818v1M1206.5 814v2M1207.5 812v2M1208.5 810v2M1209.5 808v1M1219.5 810v1M1224.5 807v1M1227.5 805v1M1230.5 803v1M1233.5 801v1M1282.5 802v1M1283.5 803v1M1284.5 804v1M1285.5 805v2M1286.5 807v1M1287.5 808v1M1288.5 809v1M1337.5 799v1M1338.5 800v3M1339.5 803v3M1340.5 806v3M1341.5 809v2M1342.5 811v3M1343.5 814v3M1344.5 817v3M1345.5 820v1M1365.5 818v1M1372.5 814v1M1377.5 811v1M1378.5 813v2M1379.5 815v2M1380.5 817v2M1381.5 819v3M1382.5 822v2M1383.5 824v2M1384.5 826v2M1385.5 828v2M1386.5 830v1M1391.5 833v1M1396.5 832v1M1397.5 831v1M1398.5 830v1M1399.5 829v1M1400.5 828v1M1401.5 827v1M1426.5 834v1M1431.5 837v1M1434.5 837v1M1435.5 835v2M1436.5 834v1M1437.5 833v1M1438.5 832v1M1439.5 830v2M1440.5 829v1M1449.5 824v1" fill="none" stroke="#1e90ff" stroke-width="1" shape-rendering="crispEdges"/>
<text x="-1" y="764" font-size="9.4" fill="#000" textLength="66.5" lengthAdjust="spacingAndGlyphs">RSI(14) 58.8773</text>
<text x="1687" y="762.3" font-size="9.4" fill="#000" textLength="15" lengthAdjust="spacingAndGlyphs">100</text>
<text x="1687" y="790.3" font-size="9.4" fill="#000" textLength="10" lengthAdjust="spacingAndGlyphs">80</text>
<text x="1687" y="841.3" font-size="9.4" fill="#000" textLength="10" lengthAdjust="spacingAndGlyphs">50</text>
<text x="1687" y="902.3" font-size="9.4" fill="#000" textLength="10" lengthAdjust="spacingAndGlyphs">15</text>
<text x="1687" y="922.3" font-size="9.4" fill="#000" textLength="5" lengthAdjust="spacingAndGlyphs">0</text>
<g shape-rendering="crispEdges">
<rect x="1684" y="787" width="2" height="1" fill="#000"/>
<rect x="1684" y="838" width="2" height="1" fill="#000"/>
<rect x="1684" y="899" width="2" height="1" fill="#000"/>
<rect x="57" y="925" width="1" height="3" fill="#000"/>
<rect x="121" y="925" width="1" height="3" fill="#000"/>
<rect x="185" y="925" width="1" height="3" fill="#000"/>
<rect x="249" y="925" width="1" height="3" fill="#000"/>
<rect x="313" y="925" width="1" height="3" fill="#000"/>
<rect x="377" y="925" width="1" height="3" fill="#000"/>
<rect x="441" y="925" width="1" height="3" fill="#000"/>
<rect x="505" y="925" width="1" height="3" fill="#000"/>
<rect x="569" y="925" width="1" height="3" fill="#000"/>
<rect x="633" y="925" width="1" height="3" fill="#000"/>
<rect x="697" y="925" width="1" height="3" fill="#000"/>
<rect x="761" y="925" width="1" height="3" fill="#000"/>
<rect x="825" y="925" width="1" height="3" fill="#000"/>
<rect x="889" y="925" width="1" height="3" fill="#000"/>
<rect x="953" y="925" width="1" height="3" fill="#000"/>
<rect x="1017" y="925" width="1" height="3" fill="#000"/>
<rect x="1081" y="925" width="1" height="3" fill="#000"/>
<rect x="1145" y="925" width="1" height="3" fill="#000"/>
<rect x="1209" y="925" width="1" height="3" fill="#000"/>
<rect x="1273" y="925" width="1" height="3" fill="#000"/>
<rect x="1337" y="925" width="1" height="3" fill="#000"/>
<rect x="1401" y="925" width="1" height="3" fill="#000"/>
</g>
<text x="-8" y="937.5" font-size="9.35" fill="#000">26 Mar 2020</text>
<text x="56" y="937.5" font-size="9.35" fill="#000">6 Apr 2020</text>
<text x="120" y="937.5" font-size="9.35" fill="#000">20 Apr 2020</text>
<text x="184" y="937.5" font-size="9.35" fill="#000">4 May 2020</text>
<text x="248" y="937.5" font-size="9.35" fill="#000">14 May 2020</text>
<text x="312" y="937.5" font-size="9.35" fill="#000">26 May 2020</text>
<text x="376" y="937.5" font-size="9.35" fill="#000">5 Jun 2020</text>
<text x="440" y="937.5" font-size="9.35" fill="#000">17 Jun 2020</text>
<text x="504" y="937.5" font-size="9.35" fill="#000">30 Jun 2020</text>
<text x="568" y="937.5" font-size="9.35" fill="#000">13 Jul 2020</text>
<text x="632" y="937.5" font-size="9.35" fill="#000">23 Jul 2020</text>
<text x="696" y="937.5" font-size="9.35" fill="#000">4 Aug 2020</text>
<text x="760" y="937.5" font-size="9.35" fill="#000">14 Aug 2020</text>
<text x="824" y="937.5" font-size="9.35" fill="#000">26 Aug 2020</text>
<text x="888" y="937.5" font-size="9.35" fill="#000">7 Sep 2020</text>
<text x="952" y="937.5" font-size="9.35" fill="#000">17 Sep 2020</text>
<text x="1016" y="937.5" font-size="9.35" fill="#000">29 Sep 2020</text>
<text x="1080" y="937.5" font-size="9.35" fill="#000">13 Oct 2020</text>
<text x="1144" y="937.5" font-size="9.35" fill="#000">23 Oct 2020</text>
<text x="1208" y="937.5" font-size="9.35" fill="#000">5 Nov 2020</text>
<text x="1272" y="937.5" font-size="9.35" fill="#000">17 Nov 2020</text>
<text x="1336" y="937.5" font-size="9.35" fill="#000">27 Nov 2020</text>
<text x="1400" y="937.5" font-size="9.35" fill="#000">9 Dec 2020</text>
<defs><linearGradient id="gtop" x1="0" y1="0" x2="0" y2="1"><stop offset="0" stop-color="#f85858"/><stop offset="1" stop-color="#e03030"/></linearGradient><linearGradient id="gbot" x1="0" y1="0" x2="0" y2="1"><stop offset="0" stop-color="#e23232"/><stop offset="1" stop-color="#b00000"/></linearGradient><linearGradient id="gbtn" x1="0" y1="0" x2="0" y2="1"><stop offset="0" stop-color="#f4f4f4"/><stop offset="1" stop-color="#cfcfcf"/></linearGradient></defs>
<g shape-rendering="crispEdges">
<rect x="0" y="43" width="216" height="66" fill="#fff"/>
<rect x="0" y="44" width="47" height="25" fill="url(#gtop)"/>
<rect x="163" y="44" width="52" height="25" fill="url(#gtop)"/>
<rect x="0" y="68" width="105" height="40" fill="url(#gbot)"/>
<rect x="107" y="68" width="108" height="40" fill="url(#gbot)"/>
<rect x="47" y="44" width="1" height="24" fill="#c01818"/><rect x="163" y="44" width="1" height="24" fill="#c01818"/><rect x="163" y="44" width="52" height="1" fill="#d02828"/><rect x="0" y="44" width="47" height="1" fill="#d02828"/>
<rect x="0" y="68" width="105" height="1" fill="#c82020"/><rect x="107" y="68" width="108" height="1" fill="#c82020"/>
<rect x="0" y="67" width="44" height="1" fill="#f9a0a0"/>
<rect x="167" y="67" width="44" height="1" fill="#f9a0a0"/>
<rect x="47" y="44" width="116" height="24" fill="#fff"/>
<rect x="50.5" y="44.5" width="110" height="21" fill="#fff" stroke="#a4aab8"/>
<rect x="51" y="45" width="20" height="20" fill="url(#gbtn)"/>
<rect x="140" y="45" width="20" height="20" fill="url(#gbtn)"/>
<rect x="71" y="45" width="1" height="20" fill="#b0b0b0"/>
<rect x="139" y="45" width="1" height="20" fill="#b0b0b0"/>
</g>
<polygon points="58,53.5 63,53.5 60.5,56.5" fill="#5064c8"/>
<polygon points="147,56.5 152,56.5 149.5,53.5" fill="#5064c8"/>
<text x="8" y="60" font-size="12" fill="#fff" textLength="26" lengthAdjust="spacingAndGlyphs">SELL</text>
<text x="176.5" y="60" font-size="12" fill="#fff" textLength="23" lengthAdjust="spacingAndGlyphs">BUY</text>
<text x="112.5" y="59" font-size="12" fill="#000" textLength="23" lengthAdjust="spacingAndGlyphs">1.00</text>
<text x="12" y="98.5" font-size="11.5" fill="#fff" font-weight="bold" textLength="34.5" lengthAdjust="spacingAndGlyphs">26692</text>
<text x="122" y="98.5" font-size="11.5" fill="#fff" font-weight="bold" textLength="34" lengthAdjust="spacingAndGlyphs">26707</text>
<text x="49" y="98.5" font-size="35" fill="#fff" textLength="24" lengthAdjust="spacingAndGlyphs">.5</text>
<text x="160.5" y="98.5" font-size="35" fill="#fff" textLength="24" lengthAdjust="spacingAndGlyphs">.5</text>
<polygon points="0,32 0,36 3.5,36" fill="#000"/>
<text x="8.5" y="36" font-size="9.5" fill="#000" textLength="197.5" lengthAdjust="spacingAndGlyphs" xml:space="preserve">HK50-,Daily  26497.0 26704.5 26394.5 26694.0</text>
<g shape-rendering="crispEdges">
<rect x="0" y="0" width="1730" height="19" fill="#f0f0f0"/>
<rect x="0" y="19" width="1730" height="1" fill="#c8c8c8"/>
<rect x="0" y="20" width="1730" height="1" fill="#a0a0a0"/>
<rect x="0" y="21" width="1730" height="1" fill="#696969"/>
<rect x="0" y="22" width="1730" height="2" fill="#fff"/>
<rect x="1729" y="22" width="1" height="922" fill="#e3e3e3"/>
<rect x="320" y="0" width="24" height="18" fill="#f9f9f9"/>
<rect x="471" y="0" width="24" height="18" fill="#f9f9f9"/>
<rect x="499" y="0" width="24" height="18" fill="#f9f9f9"/>
<rect x="659" y="0" width="24" height="18" fill="#f9f9f9"/>
<rect x="1133" y="0" width="24" height="18" fill="#f9f9f9"/>
<rect x="44" y="0" width="1" height="18" fill="#9a9a9a"/>
<rect x="318" y="0" width="1" height="18" fill="#9a9a9a"/>
<rect x="375" y="0" width="1" height="18" fill="#9a9a9a"/>
<rect x="465" y="0" width="1" height="18" fill="#9a9a9a"/>
<rect x="470" y="0" width="1" height="18" fill="#9a9a9a"/>
<rect x="498" y="0" width="1" height="18" fill="#9a9a9a"/>
<rect x="527" y="0" width="1" height="18" fill="#9a9a9a"/>
<rect x="658" y="0" width="1" height="18" fill="#9a9a9a"/>
<rect x="715" y="0" width="1" height="18" fill="#9a9a9a"/>
<rect x="1132" y="0" width="1" height="18" fill="#9a9a9a"/>
<rect x="280" y="0" width="1" height="20" fill="#8c8c8c"/>
<rect x="281" y="0" width="1" height="20" fill="#fafafa"/>
<rect x="648" y="0" width="1" height="20" fill="#8c8c8c"/>
<rect x="649" y="0" width="1" height="20" fill="#fafafa"/>
<rect x="954" y="0" width="1" height="20" fill="#8c8c8c"/>
<rect x="955" y="0" width="1" height="20" fill="#fafafa"/>
<rect x="1215" y="0" width="1" height="20" fill="#8c8c8c"/>
<rect x="1216" y="0" width="1" height="20" fill="#fafafa"/>
<rect x="283" y="1" width="4" height="1" fill="#a8a8a8"/>
<rect x="283" y="3" width="4" height="1" fill="#a8a8a8"/>
<rect x="283" y="5" width="4" height="1" fill="#a8a8a8"/>
<rect x="283" y="7" width="4" height="1" fill="#a8a8a8"/>
<rect x="283" y="9" width="4" height="1" fill="#a8a8a8"/>
<rect x="283" y="11" width="4" height="1" fill="#a8a8a8"/>
<rect x="283" y="13" width="4" height="1" fill="#a8a8a8"/>
<rect x="283" y="15" width="4" height="1" fill="#a8a8a8"/>
<rect x="651" y="1" width="4" height="1" fill="#a8a8a8"/>
<rect x="651" y="3" width="4" height="1" fill="#a8a8a8"/>
<rect x="651" y="5" width="4" height="1" fill="#a8a8a8"/>
<rect x="651" y="7" width="4" height="1" fill="#a8a8a8"/>
<rect x="651" y="9" width="4" height="1" fill="#a8a8a8"/>
<rect x="651" y="11" width="4" height="1" fill="#a8a8a8"/>
<rect x="651" y="13" width="4" height="1" fill="#a8a8a8"/>
<rect x="651" y="15" width="4" height="1" fill="#a8a8a8"/>
<rect x="957" y="1" width="4" height="1" fill="#a8a8a8"/>
<rect x="957" y="3" width="4" height="1" fill="#a8a8a8"/>
<rect x="957" y="5" width="4" height="1" fill="#a8a8a8"/>
<rect x="957" y="7" width="4" height="1" fill="#a8a8a8"/>
<rect x="957" y="9" width="4" height="1" fill="#a8a8a8"/>
<rect x="957" y="11" width="4" height="1" fill="#a8a8a8"/>
<rect x="957" y="13" width="4" height="1" fill="#a8a8a8"/>
<rect x="957" y="15" width="4" height="1" fill="#a8a8a8"/>
</g>
<rect x="-3" y="1.5" width="9" height="13" fill="#fff" stroke="#3a78c8" stroke-width="1"/>
<rect x="0" y="4.5" width="5" height="0.8" fill="#a8c4f0"/>
<rect x="0" y="6.5" width="5" height="0.8" fill="#a8c4f0"/>
<rect x="0" y="8.5" width="5" height="0.8" fill="#a8c4f0"/>
<rect x="0" y="10.5" width="5" height="0.8" fill="#a8c4f0"/>
<rect x="20" y="0.8" width="11" height="12.5" fill="#fbfbfb" stroke="#c8bfa8" stroke-width="1"/>
<path d="M23.5 2v9M28.5 2v9M22 4h3M27 5h3" stroke="#7a7a7a" stroke-width="1" fill="none"/>
<line x1="31.5" y1="12.5" x2="36" y2="17" stroke="#c89a20" stroke-width="2.2" stroke-linecap="round"/>
<circle cx="27.5" cy="8.5" r="4.6" fill="#d4e6f8" fill-opacity="0.85" stroke="#6f9be0" stroke-width="1.2"/>
<path d="M54.5 1.5h7l3.5 3.5v8.5h-10.5z" fill="#fdfdfd" stroke="#8a8a8a" stroke-width="1"/>
<path d="M56.5 4.5h3M56.5 7.5h6M56.5 9.5h4" stroke="#8a8a8a" stroke-width="1"/>
<path d="M62.7 6.8h3.6v3.6h3.6v3.6h-3.6v3.6h-3.6v-3.6h-3.6v-3.6h3.6z" fill="#28d028" stroke="#109010" stroke-width="0.8"/>
<text x="73" y="12" font-size="12.5" font-weight="500" fill="#000" font-family="Liberation Sans, Noto Sans CJK SC, sans-serif" textLength="36.5" lengthAdjust="spacingAndGlyphs">新订单</text>
<path d="M121 9.5l6-8 10 6-6 8z" fill="#e8b830" stroke="#a87810" stroke-width="1"/>
<path d="M122.5 11l6 4.5 7-8" fill="none" stroke="#c89018" stroke-width="1"/>
<path d="M125 7l4-5 6 3.5-4 5z" fill="#f8dc70"/>
<path d="M152 0.5h8.5l2.5 1.8v7.7h-11z" fill="#4aa0f4" stroke="#2468c8" stroke-width="1"/>
<path d="M155 0.5h5.5l2.5 1.8v1.2h-8z" fill="#1c58c0"/>
<rect x="156" y="4.6" width="5.5" height="1.2" fill="#e8f4ff"/>
<rect x="154.2" y="1" width="1.2" height="8" fill="#b8dcff"/>
<path d="M152.6 15.5a3 3 0 0 1 -0.4-5.9a3.8 3.8 0 0 1 6.9-1.2a3.3 3.3 0 0 1 4.8 2.3a2.5 2.5 0 0 1 -0.8 4.8z" fill="#f2f6fc" stroke="#7c98cc" stroke-width="1"/>
<circle cx="185" cy="8" r="7.6" fill="#f4f6f8" stroke="#d0dae8" stroke-width="0.8"/>
<path d="M185 0.8a7.2 7.2 0 0 1 0 14.4z" fill="#b4dcb4" fill-opacity="0.75"/>
<path d="M188.5 4a5 5 0 0 1 0 8M190.8 2.2a8 8 0 0 1 0 11.6" fill="none" stroke="#8ccc94" stroke-width="1"/>
<path d="M181.5 4a5 5 0 0 0 0 8M179.2 2.2a8 8 0 0 0 0 11.6" fill="none" stroke="#7c9ce8" stroke-width="1.1"/>
<circle cx="185" cy="7.8" r="1.7" fill="#2860e0"/>
<rect x="184.4" y="8.5" width="1.3" height="7.5" fill="#20a030"/>
<path d="M205 6.5l13.5 0-2 6-4.5 3.5-5-4z" fill="#f8d848" stroke="#c8a020" stroke-width="0.8"/>
<ellipse cx="212" cy="5" rx="8" ry="2.4" fill="#4c9ce4"/>
<path d="M208.3 5C208.3 -0.5 215.7 -0.5 215.7 5z" fill="#68b4f0"/>
<rect x="211.3" y="-1" width="1.6" height="1.6" fill="#4c9ce4"/>
<circle cx="216.5" cy="11.5" r="4" fill="#e02010"/>
<rect x="214.8" y="9.8" width="3.4" height="3.4" fill="#fff"/>
<text x="226" y="12" font-size="12.5" font-weight="500" fill="#000" font-family="Liberation Sans, Noto Sans CJK SC, sans-serif" textLength="46.5" lengthAdjust="spacingAndGlyphs">自动交易</text>
<g shape-rendering="crispEdges" fill="#505050"><rect x="298" y="3" width="1" height="13"/><rect x="296" y="13" width="13" height="1"/></g>
<path d="M297 4.5l1.5-2.5 1.5 2.5zM308 12l2.5 1.5-2.5 1.5z" fill="#505050"/>
<path d="M304.5 11V4M304.5 4.5h2.5M302 10.5h2.5" stroke="#20a020" stroke-width="1.2" fill="none"/>
<g shape-rendering="crispEdges" fill="#505050"><rect x="326" y="3" width="1" height="13"/><rect x="324" y="13" width="13" height="1"/></g>
<path d="M325 4.5l1.5-2.5 1.5 2.5zM336 12l2.5 1.5-2.5 1.5z" fill="#505050"/>
<rect x="332" y="0" width="1" height="12" fill="#108010"/><rect x="330.5" y="3" width="4" height="6.5" fill="#30e040" stroke="#108010" stroke-width="0.8"/>
<g shape-rendering="crispEdges" fill="#505050"><rect x="354" y="3" width="1" height="13"/><rect x="352" y="13" width="13" height="1"/></g>
<path d="M353 4.5l1.5-2.5 1.5 2.5zM364 12l2.5 1.5-2.5 1.5z" fill="#505050"/>
<path d="M353.5 10.5q4-7 6.5-5t4 3.5" stroke="#20a020" stroke-width="1.2" fill="none"/>
<line x1="394" y1="10" x2="399" y2="15" stroke="#d0a830" stroke-width="2.4" stroke-linecap="round"/>
<circle cx="390" cy="6" r="5.4" fill="#d8ecfc" stroke="#3878d8" stroke-width="1.3"/>
<rect x="387" y="5.2" width="6" height="1.7" fill="#3070d0"/>
<rect x="389.15" y="3" width="1.7" height="6" fill="#3070d0"/>
<line x1="422" y1="10" x2="427" y2="15" stroke="#d0a830" stroke-width="2.4" stroke-linecap="round"/>
<circle cx="418" cy="6" r="5.4" fill="#d8ecfc" stroke="#3878d8" stroke-width="1.3"/>
<rect x="415" y="5.2" width="6" height="1.7" fill="#3070d0"/>
<rect x="440" y="0" width="7.6" height="7.6" fill="#40a020"/>
<rect x="441.2" y="3" width="5.2" height="3.4" fill="#f0f4ff"/><rect x="441.2" y="4.3" width="5.2" height="0.8" fill="#40a020"/>
<rect x="448" y="0" width="7.6" height="7.6" fill="#2858d0"/>
<rect x="449.2" y="3" width="5.2" height="3.4" fill="#f0f4ff"/><rect x="449.2" y="4.3" width="5.2" height="0.8" fill="#2858d0"/>
<rect x="440" y="8" width="7.6" height="7.6" fill="#2858d0"/>
<rect x="441.2" y="11" width="5.2" height="3.4" fill="#f0f4ff"/><rect x="441.2" y="12.3" width="5.2" height="0.8" fill="#2858d0"/>
<rect x="448" y="8" width="7.6" height="7.6" fill="#40a020"/>
<rect x="449.2" y="11" width="5.2" height="3.4" fill="#f0f4ff"/><rect x="449.2" y="12.3" width="5.2" height="0.8" fill="#40a020"/>
<g shape-rendering="crispEdges" fill="#505050"><rect x="478" y="3" width="1" height="13"/><rect x="476" y="13" width="13" height="1"/></g>
<path d="M477 4.5l1.5-2.5 1.5 2.5zM488 12l2.5 1.5-2.5 1.5z" fill="#505050"/>
<path d="M483.5 4.5v6.5l4-3.2z" fill="#b8f0b8" stroke="#20a020" stroke-width="1"/>
<g shape-rendering="crispEdges" fill="#505050"><rect x="506" y="3" width="1" height="13"/><rect x="504" y="13" width="13" height="1"/></g>
<path d="M505 4.5l1.5-2.5 1.5 2.5zM516 12l2.5 1.5-2.5 1.5z" fill="#505050"/>
<rect x="512" y="2" width="1.2" height="9.5" fill="#2070b0"/>
<path d="M513.5 7.5l3-2.5-0.5 2h2.5v1h-2.5l0.5 2z" fill="#e05010"/>
<path d="M537.5 1.5h7l3.5 3.5v8.5h-10.5z" fill="#fdfdfd" stroke="#8a8a8a" stroke-width="1"/>
<path d="M539.5 4.5h3M539.5 7.5h6M539.5 9.5h4" stroke="#8a8a8a" stroke-width="1"/>
<path d="M545.7 6.8h3.6v3.6h3.6v3.6h-3.6v3.6h-3.6v-3.6h-3.6v-3.6h3.6z" fill="#28d028" stroke="#109010" stroke-width="0.8"/>
<path d="M558.5 7h6l-3 3.2z" fill="#000"/>
<defs><linearGradient id="gclk" x1="0" y1="0" x2="0" y2="1"><stop offset="0" stop-color="#3c8cf0"/><stop offset="1" stop-color="#0c4cb0"/></linearGradient></defs>
<circle cx="583.2" cy="8" r="8" fill="url(#gclk)"/>
<circle cx="583.2" cy="8" r="5.6" fill="#f8fafc"/>
<g fill="#9aa0a8"><rect x="582.9" y="3" width="0.7" height="1.2"/><rect x="582.9" y="11.8" width="0.7" height="1.2"/><rect x="578.2" y="7.7" width="1.2" height="0.7"/><rect x="587" y="7.7" width="1.2" height="0.7"/></g>
<path d="M582.7 4.2v4h3" stroke="#202020" stroke-width="1.1" fill="none"/>
<rect x="581.7" y="-1" width="3" height="1.4" fill="#1868d0"/>
<path d="M597.5 7h6l-3 3.2z" fill="#000"/>
<rect x="614.5" y="1.5" width="15" height="13" fill="#fff" stroke="#2868d0" stroke-width="1.2"/>
<rect x="614.5" y="1.5" width="15" height="2" fill="#5090e8"/>
<rect x="615" y="8.5" width="14" height="0.8" fill="#6090e0"/>
<path d="M616.5 7l3-1 3-1 2.5 1 3-1" stroke="#a02000" stroke-width="1.3" fill="none"/>
<path d="M617.5 12.5l3-0.5 2-1 1.5 1 2-1.5 2 2" stroke="#109020" stroke-width="1.2" fill="none"/>
<path d="M636.5 7h6l-3 3.2z" fill="#000"/>
<path d="M666 0.8V11.8l2.5-2 2.6 5.6 1.9-0.9-2.5-5.3 3.6-0.7z" fill="#454545"/>
<g shape-rendering="crispEdges" fill="#454545"><rect x="691" y="8" width="15" height="1"/><rect x="698" y="1" width="1" height="15"/></g>
<rect x="698" y="8" width="1" height="1" fill="#f0f0f0"/>
<rect x="732" y="2" width="1.3" height="13" fill="#454545"/>
<rect x="755" y="7.8" width="12" height="1.3" fill="#454545"/>
<line x1="782.6" y1="15" x2="795" y2="3" stroke="#454545" stroke-width="1.2"/>
<path d="M808.8 10.2L818 1.2M809.8 14.6L821.6 2.2M813.6 15L822.8 6" stroke="#505050" stroke-width="1" fill="none"/>
<path d="M811.3 7.5l0.8 6M814 5l0.8 6.5M816.8 2.8l0.8 6.2M819.5 1l0.8 5.5" stroke="#505050" stroke-width="0.9" fill="none"/>
<text x="819.5" y="16.5" font-size="6.5" font-weight="bold" fill="#303030">E</text>
<line x1="838" y1="1.5" x2="851" y2="1.5" stroke="#505050" stroke-width="1" stroke-dasharray="1,1"/>
<line x1="838" y1="4.5" x2="851" y2="4.5" stroke="#505050" stroke-width="1" stroke-dasharray="1,1"/>
<line x1="838" y1="8.5" x2="851" y2="8.5" stroke="#505050" stroke-width="1" stroke-dasharray="1,1"/>
<line x1="838" y1="12.5" x2="847" y2="12.5" stroke="#505050" stroke-width="1" stroke-dasharray="1,1"/>
<text x="847.8" y="16.5" font-size="6.5" font-weight="bold" fill="#303030">F</text>
<text x="868.6" y="13" font-size="12.5" fill="#585858" textLength="7.9" stroke="#585858" stroke-width="0.45" lengthAdjust="spacingAndGlyphs">A</text>
<rect x="895.5" y="2.5" width="11" height="12" fill="none" stroke="#505050" stroke-width="1" stroke-dasharray="1,1" shape-rendering="crispEdges"/>
<text x="897" y="13" font-size="11.5" fill="#585858" textLength="8" stroke="#585858" stroke-width="0.3" lengthAdjust="spacingAndGlyphs">T</text>
<path d="M925 1.3l3.3 3.3-3.3 3.3-3.3-3.3zM932.5 8.3l3.5 3.5-3.5 3.5-3.5-3.5z" fill="#454545"/>
<path d="M924.3 9.8l2.2 1.9 4.2-5.4" stroke="#454545" stroke-width="1.3" fill="none"/>
<path d="M942.5 7h6l-3 3.2z" fill="#000"/>
<text x="969.6" y="11.4" font-size="9.5" fill="#505050" textLength="13" lengthAdjust="spacingAndGlyphs">M1</text>
<text x="997.4" y="11.4" font-size="9.5" fill="#505050" textLength="13" lengthAdjust="spacingAndGlyphs">M5</text>
<text x="1023.4" y="11.4" font-size="9.5" fill="#505050" textLength="18" lengthAdjust="spacingAndGlyphs">M15</text>
<text x="1051.4" y="11.4" font-size="9.5" fill="#505050" textLength="18" lengthAdjust="spacingAndGlyphs">M30</text>
<text x="1082.4" y="11.4" font-size="9.5" fill="#505050" textLength="12" lengthAdjust="spacingAndGlyphs">H1</text>
<text x="1109.4" y="11.4" font-size="9.5" fill="#505050" textLength="12.5" lengthAdjust="spacingAndGlyphs">H4</text>
<text x="1138.4" y="11.4" font-size="9.5" fill="#505050" textLength="12" lengthAdjust="spacingAndGlyphs">D1</text>
<text x="1165.5" y="11.4" font-size="9.5" fill="#505050" textLength="15" lengthAdjust="spacingAndGlyphs">W1</text>
<text x="1192.7" y="11.4" font-size="9.5" fill="#505050" textLength="15" lengthAdjust="spacingAndGlyphs">MN</text>
<line x1="1682.8" y1="8.6" x2="1677.8" y2="13.2" stroke="#2858d0" stroke-width="2.2" stroke-linecap="round"/>
<circle cx="1685.6" cy="5.5" r="3.8" fill="#f4f6ff" stroke="#2858d0" stroke-width="1.3"/>
<path d="M1702.5 10a6.5 4.8 0 1 1 5 4.6l-2 2-0.3-2.4a6 4.6 0 0 1-2.7-4.2z" fill="#dcdce8" stroke="#b4b4b8" stroke-width="0.8"/>
<defs><linearGradient id="gbadge" x1="0" y1="0" x2="0" y2="1"><stop offset="0" stop-color="#e85030"/><stop offset="1" stop-color="#d82010"/></linearGradient></defs>
<circle cx="1716.5" cy="5.3" r="8.4" fill="url(#gbadge)"/>
<text x="1712.5" y="10" font-size="12.5" fill="#fff">1</text>
</svg>
</body></html>
